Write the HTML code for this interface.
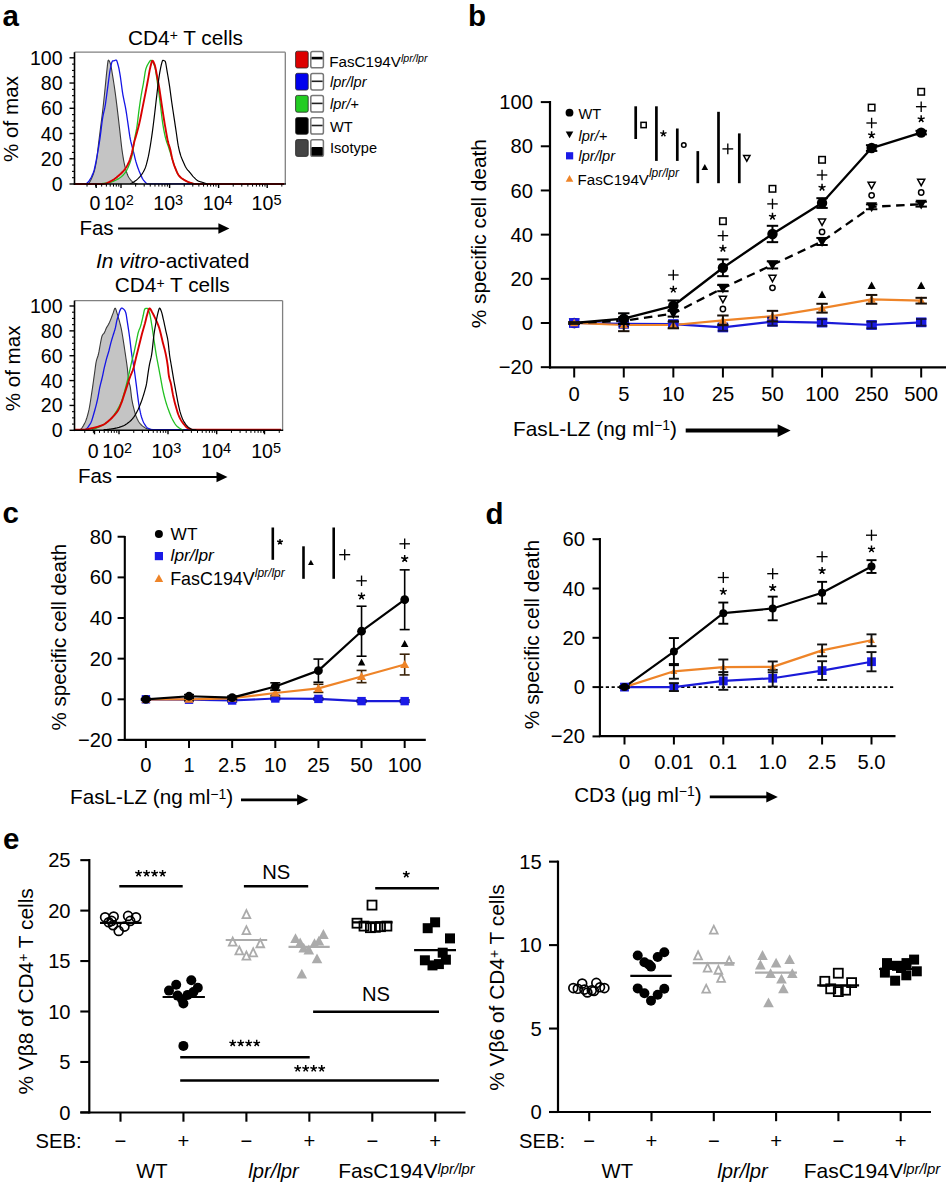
<!DOCTYPE html>
<html><head><meta charset="utf-8"><style>
html,body{margin:0;padding:0;background:#fff;}
svg{display:block;font-family:"Liberation Sans", sans-serif;}
</style></head><body>
<svg width="946" height="1183" viewBox="0 0 946 1183">
<rect width="946" height="1183" fill="#fff"/>
<text x="2.50" y="25.50" font-size="29.5" text-anchor="start" font-weight="bold">a</text>
<text x="468.00" y="25.50" font-size="29.5" text-anchor="start" font-weight="bold">b</text>
<text x="2.50" y="523.20" font-size="29.5" text-anchor="start" font-weight="bold">c</text>
<text x="485.50" y="523.70" font-size="29.5" text-anchor="start" font-weight="bold">d</text>
<text x="3.00" y="848.50" font-size="29.5" text-anchor="start" font-weight="bold">e</text>
<path d="M88.06,183.94 L88.56,183.47 L89.06,182.86 L89.56,182.15 L90.06,181.36 L90.56,180.47 L91.06,179.50 L91.56,178.45 L92.06,177.31 L92.56,176.10 L93.06,174.80 L93.56,173.40 L94.06,171.81 L94.56,170.01 L95.06,167.99 L95.56,165.73 L96.06,163.22 L96.56,160.25 L97.06,156.43 L97.56,152.12 L98.06,147.72 L98.56,143.59 L99.06,139.59 L99.56,135.59 L100.06,131.59 L100.56,127.59 L101.06,123.63 L101.56,119.73 L102.06,115.80 L102.56,111.73 L103.06,107.45 L103.56,102.95 L104.06,98.27 L104.56,93.49 L105.06,88.67 L105.56,83.60 L106.06,78.33 L106.56,73.34 L107.06,68.90 L107.56,64.16 L108.06,60.69 L108.56,60.13 L109.06,60.67 L109.56,61.63 L110.06,62.82 L110.56,64.24 L111.06,66.42 L111.56,69.17 L112.06,72.23 L112.56,75.35 L113.06,78.35 L113.56,81.47 L114.06,84.74 L114.56,88.14 L115.06,91.66 L115.56,95.29 L116.06,99.10 L116.56,103.08 L117.06,107.18 L117.56,111.33 L118.06,115.54 L118.56,119.86 L119.06,124.23 L119.56,128.62 L120.06,132.99 L120.56,137.57 L121.06,142.18 L121.56,146.54 L122.06,150.37 L122.56,153.71 L123.06,156.86 L123.56,159.80 L124.06,162.48 L124.56,164.87 L125.06,166.92 L125.56,168.75 L126.06,170.47 L126.56,172.06 L127.06,173.52 L127.56,174.83 L128.06,175.97 L128.56,176.94 L129.06,177.75 L129.56,178.49 L130.06,179.17 L130.56,179.80 L131.06,180.37 L131.56,180.88 L132.06,181.34 L132.56,181.74 L133.06,182.08 L133.56,182.37 L134.06,182.66 L134.56,182.93 L135.06,183.18 L135.56,183.41 L136.06,183.60 L136.56,183.76 L137.06,183.87 L137.56,183.93 L137.56,184.00 L88.06,184.00 Z" fill="#c4c4c4" stroke="none" stroke-width="0"/>
<path d="M88.06,183.94 L88.56,183.47 L89.06,182.86 L89.56,182.15 L90.06,181.36 L90.56,180.47 L91.06,179.50 L91.56,178.45 L92.06,177.31 L92.56,176.10 L93.06,174.80 L93.56,173.40 L94.06,171.81 L94.56,170.01 L95.06,167.99 L95.56,165.73 L96.06,163.22 L96.56,160.25 L97.06,156.43 L97.56,152.12 L98.06,147.72 L98.56,143.59 L99.06,139.59 L99.56,135.59 L100.06,131.59 L100.56,127.59 L101.06,123.63 L101.56,119.73 L102.06,115.80 L102.56,111.73 L103.06,107.45 L103.56,102.95 L104.06,98.27 L104.56,93.49 L105.06,88.67 L105.56,83.60 L106.06,78.33 L106.56,73.34 L107.06,68.90 L107.56,64.16 L108.06,60.69 L108.56,60.13 L109.06,60.67 L109.56,61.63 L110.06,62.82 L110.56,64.24 L111.06,66.42 L111.56,69.17 L112.06,72.23 L112.56,75.35 L113.06,78.35 L113.56,81.47 L114.06,84.74 L114.56,88.14 L115.06,91.66 L115.56,95.29 L116.06,99.10 L116.56,103.08 L117.06,107.18 L117.56,111.33 L118.06,115.54 L118.56,119.86 L119.06,124.23 L119.56,128.62 L120.06,132.99 L120.56,137.57 L121.06,142.18 L121.56,146.54 L122.06,150.37 L122.56,153.71 L123.06,156.86 L123.56,159.80 L124.06,162.48 L124.56,164.87 L125.06,166.92 L125.56,168.75 L126.06,170.47 L126.56,172.06 L127.06,173.52 L127.56,174.83 L128.06,175.97 L128.56,176.94 L129.06,177.75 L129.56,178.49 L130.06,179.17 L130.56,179.80 L131.06,180.37 L131.56,180.88 L132.06,181.34 L132.56,181.74 L133.06,182.08 L133.56,182.37 L134.06,182.66 L134.56,182.93 L135.06,183.18 L135.56,183.41 L136.06,183.60 L136.56,183.76 L137.06,183.87 L137.56,183.93" fill="none" stroke="#3a3a3a" stroke-width="1.1" stroke-linejoin="round"/>
<path d="M84.36,183.94 L84.86,183.87 L85.36,183.73 L85.86,183.54 L86.36,183.30 L86.86,183.04 L87.36,182.70 L87.86,182.26 L88.36,181.74 L88.86,181.13 L89.36,180.45 L89.86,179.69 L90.36,178.86 L90.86,177.95 L91.36,176.99 L91.86,175.96 L92.36,174.88 L92.86,173.74 L93.36,172.53 L93.86,171.02 L94.36,169.16 L94.86,167.01 L95.36,164.64 L95.86,162.13 L96.36,159.55 L96.86,156.96 L97.36,154.34 L97.86,151.56 L98.36,148.61 L98.86,145.54 L99.36,142.35 L99.86,139.06 L100.36,135.51 L100.86,131.58 L101.36,127.49 L101.86,123.49 L102.36,119.78 L102.86,116.59 L103.36,114.04 L103.86,111.86 L104.36,109.75 L104.86,107.41 L105.36,104.57 L105.86,101.21 L106.36,97.51 L106.86,93.66 L107.36,89.82 L107.86,86.15 L108.36,82.36 L108.86,78.46 L109.36,74.73 L109.86,71.41 L110.36,68.75 L110.86,66.29 L111.36,64.00 L111.86,62.19 L112.36,61.19 L112.86,60.96 L113.36,60.84 L113.86,60.75 L114.36,60.62 L114.86,60.44 L115.36,60.24 L115.86,60.09 L116.36,60.13 L116.86,60.93 L117.36,62.39 L117.86,64.23 L118.36,66.14 L118.86,68.22 L119.36,70.77 L119.86,73.57 L120.36,76.70 L120.86,80.24 L121.36,84.01 L121.86,87.78 L122.36,91.36 L122.86,94.52 L123.36,97.24 L123.86,99.70 L124.36,102.02 L124.86,104.34 L125.36,106.81 L125.86,109.55 L126.36,112.65 L126.86,116.01 L127.36,119.48 L127.86,122.93 L128.36,126.35 L128.86,129.93 L129.36,133.46 L129.86,136.69 L130.36,139.40 L130.86,141.69 L131.36,143.74 L131.86,145.63 L132.36,147.46 L132.86,149.32 L133.36,151.29 L133.86,153.36 L134.36,155.47 L134.86,157.56 L135.36,159.57 L135.86,161.45 L136.36,163.14 L136.86,164.73 L137.36,166.25 L137.86,167.69 L138.36,169.07 L138.86,170.39 L139.36,171.65 L139.86,172.84 L140.36,174.01 L140.86,175.18 L141.36,176.31 L141.86,177.38 L142.36,178.37 L142.86,179.25 L143.36,179.99 L143.86,180.60 L144.36,181.20 L144.86,181.78 L145.36,182.33 L145.86,182.82 L146.36,183.25 L146.86,183.59 L147.36,183.82 L147.86,183.93 L148.36,183.94 L148.86,183.94 L149.36,183.94 L149.86,183.94 L150.36,183.94 L150.86,183.94 L151.36,183.94 L151.86,183.94 L152.36,183.94 L152.86,183.94 L153.36,183.94 L153.86,183.94 L154.36,183.94 L154.86,183.94 L155.36,183.94 L155.86,183.94 L156.36,183.94 L156.86,183.94 L157.36,183.94 L157.86,183.94 L158.36,183.94 L158.86,183.94 L159.36,183.94 L159.86,183.94 L160.36,183.94 L160.86,183.94 L161.36,183.94 L161.86,183.94 L162.36,183.94 L162.86,183.94 L163.36,183.94 L163.86,183.94 L164.36,183.94 L164.86,183.94 L165.36,183.94 L165.86,183.94 L166.36,183.94 L166.86,183.94 L167.36,183.94 L167.86,183.94 L168.36,183.94 L168.86,183.94 L169.36,183.94 L169.86,183.94 L170.36,183.94 L170.86,183.94 L171.36,183.94 L171.86,183.94 L172.36,183.94 L172.86,183.94 L173.36,183.94 L173.86,183.94 L174.36,183.94 L174.86,183.94 L175.36,183.94 L175.86,183.94 L176.36,183.94 L176.86,183.94 L177.36,183.94 L177.86,183.94 L178.36,183.94 L178.86,183.94 L179.36,183.94 L179.86,183.94 L180.36,183.94 L180.86,183.94 L181.36,183.94 L181.86,183.94 L182.36,183.94 L182.86,183.94 L183.36,183.94 L183.86,183.94 L184.36,183.94 L184.86,183.94 L185.36,183.94 L185.86,183.94 L186.36,183.94 L186.86,183.94 L187.36,183.94 L187.86,183.94 L188.36,183.94 L188.86,183.94 L189.36,183.94 L189.86,183.94 L190.36,183.94 L190.86,183.94 L191.36,183.94 L191.86,183.94 L192.36,183.94 L192.86,183.94 L193.36,183.94 L193.86,183.94 L194.36,183.94 L194.86,183.94 L195.36,183.94 L195.86,183.94 L196.36,183.94 L196.86,183.94 L197.36,183.94 L197.86,183.94 L198.36,183.94 L198.86,183.94 L199.36,183.94 L199.86,183.94 L200.36,183.94 L200.86,183.94 L201.36,183.94 L201.86,183.94 L202.36,183.94 L202.86,183.94 L203.36,183.94 L203.86,183.94 L204.36,183.94 L204.86,183.94 L205.36,183.94 L205.86,183.94 L206.36,183.94 L206.86,183.94 L207.36,183.94 L207.86,183.94 L208.36,183.94 L208.86,183.94 L209.36,183.94 L209.86,183.94 L210.36,183.94 L210.86,183.94 L211.36,183.94 L211.86,183.94 L212.36,183.94 L212.86,183.94 L213.36,183.94 L213.86,183.94 L214.36,183.94 L214.86,183.94 L215.36,183.94 L215.86,183.94 L216.36,183.94 L216.86,183.94 L217.36,183.94 L217.86,183.94 L218.36,183.94 L218.86,183.94 L219.36,183.94 L219.86,183.94 L220.36,183.94 L220.86,183.94 L221.36,183.94 L221.86,183.94" fill="none" stroke="#1414e6" stroke-width="1.3" stroke-linejoin="round"/>
<path d="M96.20,183.94 L96.70,183.93 L97.20,183.92 L97.70,183.91 L98.20,183.89 L98.70,183.87 L99.20,183.84 L99.70,183.81 L100.20,183.77 L100.70,183.73 L101.20,183.68 L101.70,183.63 L102.20,183.58 L102.70,183.52 L103.20,183.46 L103.70,183.39 L104.20,183.33 L104.70,183.25 L105.20,183.18 L105.70,183.11 L106.20,183.03 L106.70,182.95 L107.20,182.86 L107.70,182.78 L108.20,182.69 L108.70,182.60 L109.20,182.51 L109.70,182.42 L110.20,182.32 L110.70,182.19 L111.20,182.06 L111.70,181.90 L112.20,181.74 L112.70,181.55 L113.20,181.36 L113.70,181.15 L114.20,180.94 L114.70,180.71 L115.20,180.47 L115.70,180.22 L116.20,179.97 L116.70,179.70 L117.20,179.43 L117.70,179.15 L118.20,178.87 L118.70,178.58 L119.20,178.27 L119.70,177.94 L120.20,177.59 L120.70,177.21 L121.20,176.81 L121.70,176.39 L122.20,175.94 L122.70,175.47 L123.20,174.97 L123.70,174.43 L124.20,173.87 L124.70,173.28 L125.20,172.65 L125.70,171.95 L126.20,171.15 L126.70,170.26 L127.20,169.29 L127.70,168.25 L128.20,167.14 L128.70,165.96 L129.20,164.72 L129.70,163.43 L130.20,162.02 L130.70,160.47 L131.20,158.76 L131.70,156.87 L132.20,154.77 L132.70,152.36 L133.20,149.19 L133.70,145.58 L134.20,141.93 L134.70,138.67 L135.20,135.94 L135.70,133.44 L136.20,130.94 L136.70,128.18 L137.20,124.88 L137.70,120.93 L138.20,116.67 L138.70,112.45 L139.20,108.61 L139.70,105.05 L140.20,101.62 L140.70,98.33 L141.20,95.23 L141.70,92.34 L142.20,89.68 L142.70,87.12 L143.20,84.52 L143.70,81.73 L144.20,78.47 L144.70,75.05 L145.20,71.91 L145.70,69.52 L146.20,67.93 L146.70,66.61 L147.20,65.51 L147.70,64.57 L148.20,63.72 L148.70,62.86 L149.20,62.02 L149.70,61.29 L150.20,60.72 L150.70,60.41 L151.20,60.39 L151.70,60.67 L152.20,61.20 L152.70,61.94 L153.20,62.86 L153.70,63.94 L154.20,65.12 L154.70,66.39 L155.20,68.24 L155.70,70.88 L156.20,74.07 L156.70,77.57 L157.20,81.15 L157.70,84.59 L158.20,88.07 L158.70,91.73 L159.20,95.52 L159.70,99.39 L160.20,103.30 L160.70,107.20 L161.20,111.36 L161.70,115.65 L162.20,119.75 L162.70,123.37 L163.20,126.44 L163.70,129.28 L164.20,131.92 L164.70,134.35 L165.20,136.57 L165.70,138.58 L166.20,140.36 L166.70,141.93 L167.20,143.38 L167.70,144.76 L168.20,146.15 L168.70,147.62 L169.20,149.19 L169.70,150.78 L170.20,152.40 L170.70,154.03 L171.20,155.65 L171.70,157.26 L172.20,158.84 L172.70,160.40 L173.20,161.99 L173.70,163.59 L174.20,165.14 L174.70,166.61 L175.20,167.96 L175.70,169.17 L176.20,170.36 L176.70,171.52 L177.20,172.61 L177.70,173.61 L178.20,174.52 L178.70,175.30 L179.20,175.94 L179.70,176.49 L180.20,177.00 L180.70,177.46 L181.20,177.88 L181.70,178.27 L182.20,178.63 L182.70,178.97 L183.20,179.29 L183.70,179.61 L184.20,179.92 L184.70,180.22 L185.20,180.51 L185.70,180.79 L186.20,181.05 L186.70,181.31 L187.20,181.55 L187.70,181.78 L188.20,181.99 L188.70,182.19 L189.20,182.37 L189.70,182.54 L190.20,182.71 L190.70,182.86 L191.20,183.01 L191.70,183.16 L192.20,183.30 L192.70,183.43 L193.20,183.55 L193.70,183.66 L194.20,183.75 L194.70,183.84 L195.20,183.91" fill="none" stroke="#22c022" stroke-width="1.3" stroke-linejoin="round"/>
<path d="M74.00,183.94 L74.50,183.94 L75.00,183.94 L75.50,183.94 L76.00,183.94 L76.50,183.94 L77.00,183.94 L77.50,183.94 L78.00,183.94 L78.50,183.94 L79.00,183.94 L79.50,183.94 L80.00,183.94 L80.50,183.94 L81.00,183.94 L81.50,183.94 L82.00,183.94 L82.50,183.94 L83.00,183.94 L83.50,183.94 L84.00,183.94 L84.50,183.94 L85.00,183.94 L85.50,183.94 L86.00,183.94 L86.50,183.94 L87.00,183.94 L87.50,183.94 L88.00,183.94 L88.50,183.94 L89.00,183.94 L89.50,183.94 L90.00,183.94 L90.50,183.94 L91.00,183.94 L91.50,183.94 L92.00,183.94 L92.50,183.94 L93.00,183.94 L93.50,183.94 L94.00,183.94 L94.50,183.94 L95.00,183.94 L95.50,183.94 L96.00,183.94 L96.50,183.94 L97.00,183.94 L97.50,183.94 L98.00,183.94 L98.50,183.94 L99.00,183.94 L99.50,183.94 L100.00,183.94 L100.50,183.94 L101.00,183.94 L101.50,183.94 L102.00,183.94 L102.50,183.94 L103.00,183.94 L103.50,183.94 L104.00,183.92 L104.50,183.87 L105.00,183.79 L105.50,183.67 L106.00,183.53 L106.50,183.36 L107.00,183.16 L107.50,182.95 L108.00,182.71 L108.50,182.46 L109.00,182.20 L109.50,181.92 L110.00,181.64 L110.50,181.36 L111.00,181.07 L111.50,180.78 L112.00,180.50 L112.50,180.22 L113.00,179.94 L113.50,179.63 L114.00,179.30 L114.50,178.95 L115.00,178.58 L115.50,178.20 L116.00,177.80 L116.50,177.40 L117.00,176.98 L117.50,176.56 L118.00,176.14 L118.50,175.71 L119.00,175.28 L119.50,174.84 L120.00,174.40 L120.50,173.95 L121.00,173.48 L121.50,173.00 L122.00,172.50 L122.50,171.98 L123.00,171.44 L123.50,170.87 L124.00,170.27 L124.50,169.64 L125.00,168.98 L125.50,168.28 L126.00,167.54 L126.50,166.75 L127.00,165.91 L127.50,165.01 L128.00,164.05 L128.50,163.03 L129.00,161.93 L129.50,160.69 L130.00,159.30 L130.50,157.78 L131.00,156.14 L131.50,154.39 L132.00,152.47 L132.50,150.15 L133.00,147.64 L133.50,145.17 L134.00,142.99 L134.50,141.09 L135.00,139.35 L135.50,137.68 L136.00,136.02 L136.50,134.31 L137.00,132.49 L137.50,130.61 L138.00,128.70 L138.50,126.73 L139.00,124.71 L139.50,122.60 L140.00,120.40 L140.50,118.04 L141.00,115.56 L141.50,113.01 L142.00,110.42 L142.50,107.84 L143.00,105.33 L143.50,102.85 L144.00,100.37 L144.50,97.90 L145.00,95.40 L145.50,92.86 L146.00,90.28 L146.50,87.64 L147.00,84.96 L147.50,82.27 L148.00,79.58 L148.50,76.80 L149.00,73.92 L149.50,71.15 L150.00,68.68 L150.50,66.58 L151.00,64.42 L151.50,62.47 L152.00,61.10 L152.50,60.66 L153.00,61.04 L153.50,61.89 L154.00,63.06 L154.50,64.38 L155.00,65.90 L155.50,68.02 L156.00,70.55 L156.50,73.21 L157.00,75.77 L157.50,78.29 L158.00,80.88 L158.50,83.58 L159.00,86.43 L159.50,89.49 L160.00,92.78 L160.50,96.21 L161.00,99.66 L161.50,103.02 L162.00,106.40 L162.50,109.79 L163.00,113.13 L163.50,116.36 L164.00,119.50 L164.50,122.56 L165.00,125.55 L165.50,128.46 L166.00,131.30 L166.50,134.19 L167.00,137.00 L167.50,139.60 L168.00,141.85 L168.50,143.68 L169.00,145.26 L169.50,146.77 L170.00,148.42 L170.50,150.43 L171.00,152.83 L171.50,155.37 L172.00,157.79 L172.50,159.82 L173.00,161.58 L173.50,163.21 L174.00,164.73 L174.50,166.15 L175.00,167.46 L175.50,168.69 L176.00,169.89 L176.50,171.06 L177.00,172.18 L177.50,173.22 L178.00,174.17 L178.50,175.01 L179.00,175.70 L179.50,176.28 L180.00,176.80 L180.50,177.28 L181.00,177.71 L181.50,178.11 L182.00,178.49 L182.50,178.83 L183.00,179.17 L183.50,179.49 L184.00,179.80 L184.50,180.10 L185.00,180.39 L185.50,180.68 L186.00,180.95 L186.50,181.21 L187.00,181.46 L187.50,181.69 L188.00,181.91 L188.50,182.11 L189.00,182.30 L189.50,182.48 L190.00,182.65 L190.50,182.82 L191.00,182.99 L191.50,183.16 L192.00,183.32 L192.50,183.47 L193.00,183.61 L193.50,183.72 L194.00,183.82 L194.50,183.89 L195.00,183.93 L195.50,183.94 L196.00,183.94 L196.50,183.94 L197.00,183.94 L197.50,183.94 L198.00,183.94 L198.50,183.94 L199.00,183.94 L199.50,183.94 L200.00,183.94 L200.50,183.94 L201.00,183.94 L201.50,183.94 L202.00,183.94 L202.50,183.94 L203.00,183.94 L203.50,183.94 L204.00,183.94 L204.50,183.94 L205.00,183.94 L205.50,183.94 L206.00,183.94 L206.50,183.94 L207.00,183.94 L207.50,183.94 L208.00,183.94 L208.50,183.94 L209.00,183.94 L209.50,183.94 L210.00,183.94 L210.50,183.94 L211.00,183.94 L211.50,183.94 L212.00,183.94 L212.50,183.94 L213.00,183.94 L213.50,183.94 L214.00,183.94 L214.50,183.94 L215.00,183.94 L215.50,183.94 L216.00,183.94 L216.50,183.94 L217.00,183.94 L217.50,183.94 L218.00,183.94 L218.50,183.94 L219.00,183.94 L219.50,183.94 L220.00,183.94 L220.50,183.94 L221.00,183.94 L221.50,183.94 L222.00,183.94 L222.50,183.94 L223.00,183.94 L223.50,183.94 L224.00,183.94 L224.50,183.94 L225.00,183.94 L225.50,183.94 L226.00,183.94 L226.50,183.94 L227.00,183.94 L227.50,183.94 L228.00,183.94 L228.50,183.94 L229.00,183.94 L229.50,183.94 L230.00,183.94 L230.50,183.94 L231.00,183.94 L231.50,183.94 L232.00,183.94 L232.50,183.94 L233.00,183.94 L233.50,183.94 L234.00,183.94 L234.50,183.94 L235.00,183.94 L235.50,183.94 L236.00,183.94 L236.50,183.94 L237.00,183.94 L237.50,183.94 L238.00,183.94 L238.50,183.94 L239.00,183.94 L239.50,183.94 L240.00,183.94 L240.50,183.94 L241.00,183.94 L241.50,183.94 L242.00,183.94 L242.50,183.94 L243.00,183.94 L243.50,183.94 L244.00,183.94 L244.50,183.94 L245.00,183.94 L245.50,183.94 L246.00,183.94 L246.50,183.94 L247.00,183.94 L247.50,183.94 L248.00,183.94 L248.50,183.94 L249.00,183.94 L249.50,183.94 L250.00,183.94 L250.50,183.94 L251.00,183.94 L251.50,183.94 L252.00,183.94 L252.50,183.94 L253.00,183.94 L253.50,183.94 L254.00,183.94 L254.50,183.94 L255.00,183.94 L255.50,183.94 L256.00,183.94 L256.50,183.94 L257.00,183.94 L257.50,183.94 L258.00,183.94 L258.50,183.94 L259.00,183.94 L259.50,183.94 L260.00,183.94 L260.50,183.94 L261.00,183.94 L261.50,183.94 L262.00,183.94 L262.50,183.94 L263.00,183.94 L263.50,183.94 L264.00,183.94 L264.50,183.94 L265.00,183.94 L265.50,183.94 L266.00,183.94 L266.50,183.94 L267.00,183.94 L267.50,183.94 L268.00,183.94 L268.50,183.94 L269.00,183.94 L269.50,183.94 L270.00,183.94 L270.50,183.94 L271.00,183.94 L271.50,183.94 L272.00,183.94 L272.50,183.94 L273.00,183.94 L273.50,183.94 L274.00,183.94 L274.50,183.94 L275.00,183.94 L275.50,183.94 L276.00,183.94 L276.50,183.94 L277.00,183.94 L277.50,183.94 L278.00,183.94 L278.50,183.94 L279.00,183.94 L279.50,183.94 L280.00,183.94 L280.50,183.94 L281.00,183.94 L281.50,183.94 L282.00,183.94 L282.50,183.94 L283.00,183.94 L283.50,183.94 L284.00,183.94" fill="none" stroke="#d80000" stroke-width="1.9" stroke-linejoin="round"/>
<path d="M130.24,183.64 L130.74,183.46 L131.24,183.26 L131.74,183.03 L132.24,182.78 L132.74,182.50 L133.24,182.21 L133.74,181.91 L134.24,181.59 L134.74,181.25 L135.24,180.90 L135.74,180.54 L136.24,180.18 L136.74,179.79 L137.24,179.37 L137.74,178.92 L138.24,178.44 L138.74,177.93 L139.24,177.39 L139.74,176.83 L140.24,176.24 L140.74,175.62 L141.24,174.97 L141.74,174.30 L142.24,173.58 L142.74,172.81 L143.24,171.99 L143.74,171.09 L144.24,170.12 L144.74,169.07 L145.24,167.91 L145.74,166.53 L146.24,164.92 L146.74,163.13 L147.24,161.19 L147.74,159.13 L148.24,156.97 L148.74,154.53 L149.24,151.86 L149.74,149.01 L150.24,146.07 L150.74,143.01 L151.24,139.77 L151.74,136.37 L152.24,132.84 L152.74,129.17 L153.24,125.29 L153.74,121.25 L154.24,117.13 L154.74,112.96 L155.24,108.67 L155.74,104.28 L156.24,99.87 L156.74,95.56 L157.24,91.35 L157.74,87.08 L158.24,82.93 L158.74,79.09 L159.24,75.74 L159.74,72.67 L160.24,69.82 L160.74,67.27 L161.24,65.10 L161.74,63.11 L162.24,61.29 L162.74,60.37 L163.24,60.39 L163.74,60.50 L164.24,60.69 L164.74,60.93 L165.24,61.41 L165.74,63.20 L166.24,65.99 L166.74,69.19 L167.24,72.21 L167.74,74.99 L168.24,77.89 L168.74,80.92 L169.24,84.09 L169.74,87.44 L170.24,91.07 L170.74,94.86 L171.24,98.63 L171.74,102.23 L172.24,105.64 L172.74,108.97 L173.24,112.25 L173.74,115.54 L174.24,118.87 L174.74,122.21 L175.24,125.54 L175.74,128.87 L176.24,132.22 L176.74,135.75 L177.24,139.34 L177.74,142.74 L178.24,145.69 L178.74,148.13 L179.24,150.31 L179.74,152.28 L180.24,154.05 L180.74,155.63 L181.24,157.06 L181.74,158.37 L182.24,159.59 L182.74,160.74 L183.24,161.86 L183.74,162.97 L184.24,164.08 L184.74,165.16 L185.24,166.19 L185.74,167.15 L186.24,168.02 L186.74,168.78 L187.24,169.46 L187.74,170.08 L188.24,170.66 L188.74,171.22 L189.24,171.77 L189.74,172.32 L190.24,172.91 L190.74,173.53 L191.24,174.16 L191.74,174.79 L192.24,175.42 L192.74,176.03 L193.24,176.60 L193.74,177.14 L194.24,177.63 L194.74,178.13 L195.24,178.62 L195.74,179.09 L196.24,179.53 L196.74,179.95 L197.24,180.33 L197.74,180.66 L198.24,180.94 L198.74,181.17 L199.24,181.37 L199.74,181.54 L200.24,181.70 L200.74,181.85 L201.24,182.00 L201.74,182.14 L202.24,182.29 L202.74,182.45 L203.24,182.62 L203.74,182.78 L204.24,182.95 L204.74,183.12 L205.24,183.28 L205.74,183.45 L206.24,183.62 L206.74,183.78" fill="none" stroke="#000" stroke-width="1.2" stroke-linejoin="round"/>
<line x1="74.50" y1="52.20" x2="285.30" y2="52.20" stroke="#808080" stroke-width="1.3"/>
<line x1="285.30" y1="52.20" x2="285.30" y2="184.00" stroke="#808080" stroke-width="1.3"/>
<line x1="74.50" y1="52.20" x2="74.50" y2="184.80" stroke="#000" stroke-width="1.6"/>
<line x1="73.70" y1="184.00" x2="285.90" y2="184.00" stroke="#000" stroke-width="1.6"/>
<line x1="69.50" y1="184.00" x2="74.50" y2="184.00" stroke="#000" stroke-width="1.4"/>
<line x1="72.00" y1="177.69" x2="74.50" y2="177.69" stroke="#000" stroke-width="1.1"/>
<line x1="72.00" y1="171.38" x2="74.50" y2="171.38" stroke="#000" stroke-width="1.1"/>
<line x1="72.00" y1="165.07" x2="74.50" y2="165.07" stroke="#000" stroke-width="1.1"/>
<line x1="69.50" y1="158.76" x2="74.50" y2="158.76" stroke="#000" stroke-width="1.4"/>
<line x1="72.00" y1="152.45" x2="74.50" y2="152.45" stroke="#000" stroke-width="1.1"/>
<line x1="72.00" y1="146.14" x2="74.50" y2="146.14" stroke="#000" stroke-width="1.1"/>
<line x1="72.00" y1="139.83" x2="74.50" y2="139.83" stroke="#000" stroke-width="1.1"/>
<line x1="69.50" y1="133.52" x2="74.50" y2="133.52" stroke="#000" stroke-width="1.4"/>
<line x1="72.00" y1="127.21" x2="74.50" y2="127.21" stroke="#000" stroke-width="1.1"/>
<line x1="72.00" y1="120.90" x2="74.50" y2="120.90" stroke="#000" stroke-width="1.1"/>
<line x1="72.00" y1="114.59" x2="74.50" y2="114.59" stroke="#000" stroke-width="1.1"/>
<line x1="69.50" y1="108.28" x2="74.50" y2="108.28" stroke="#000" stroke-width="1.4"/>
<line x1="72.00" y1="101.97" x2="74.50" y2="101.97" stroke="#000" stroke-width="1.1"/>
<line x1="72.00" y1="95.66" x2="74.50" y2="95.66" stroke="#000" stroke-width="1.1"/>
<line x1="72.00" y1="89.35" x2="74.50" y2="89.35" stroke="#000" stroke-width="1.1"/>
<line x1="69.50" y1="83.04" x2="74.50" y2="83.04" stroke="#000" stroke-width="1.4"/>
<line x1="72.00" y1="76.73" x2="74.50" y2="76.73" stroke="#000" stroke-width="1.1"/>
<line x1="72.00" y1="70.42" x2="74.50" y2="70.42" stroke="#000" stroke-width="1.1"/>
<line x1="72.00" y1="64.11" x2="74.50" y2="64.11" stroke="#000" stroke-width="1.1"/>
<line x1="69.50" y1="57.80" x2="74.50" y2="57.80" stroke="#000" stroke-width="1.4"/>
<text x="62.60" y="191.00" font-size="19.6" text-anchor="end">0</text>
<text x="62.60" y="165.76" font-size="19.6" text-anchor="end">20</text>
<text x="62.60" y="140.52" font-size="19.6" text-anchor="end">40</text>
<text x="62.60" y="115.28" font-size="19.6" text-anchor="end">60</text>
<text x="62.60" y="90.04" font-size="19.6" text-anchor="end">80</text>
<text x="62.60" y="64.80" font-size="19.6" text-anchor="end">100</text>
<line x1="96.20" y1="184.00" x2="96.20" y2="188.00" stroke="#000" stroke-width="1.4"/>
<line x1="121.00" y1="184.00" x2="121.00" y2="188.00" stroke="#000" stroke-width="1.4"/>
<line x1="169.60" y1="184.00" x2="169.60" y2="188.00" stroke="#000" stroke-width="1.4"/>
<line x1="218.60" y1="184.00" x2="218.60" y2="188.00" stroke="#000" stroke-width="1.4"/>
<line x1="267.20" y1="184.00" x2="267.20" y2="188.00" stroke="#000" stroke-width="1.4"/>
<line x1="87.03" y1="184.00" x2="87.03" y2="186.60" stroke="#000" stroke-width="1.0"/>
<line x1="95.59" y1="184.00" x2="95.59" y2="186.60" stroke="#000" stroke-width="1.0"/>
<line x1="101.66" y1="184.00" x2="101.66" y2="186.60" stroke="#000" stroke-width="1.0"/>
<line x1="106.37" y1="184.00" x2="106.37" y2="186.60" stroke="#000" stroke-width="1.0"/>
<line x1="110.22" y1="184.00" x2="110.22" y2="186.60" stroke="#000" stroke-width="1.0"/>
<line x1="113.47" y1="184.00" x2="113.47" y2="186.60" stroke="#000" stroke-width="1.0"/>
<line x1="116.29" y1="184.00" x2="116.29" y2="186.60" stroke="#000" stroke-width="1.0"/>
<line x1="118.78" y1="184.00" x2="118.78" y2="186.60" stroke="#000" stroke-width="1.0"/>
<line x1="135.63" y1="184.00" x2="135.63" y2="186.60" stroke="#000" stroke-width="1.0"/>
<line x1="144.19" y1="184.00" x2="144.19" y2="186.60" stroke="#000" stroke-width="1.0"/>
<line x1="150.26" y1="184.00" x2="150.26" y2="186.60" stroke="#000" stroke-width="1.0"/>
<line x1="154.97" y1="184.00" x2="154.97" y2="186.60" stroke="#000" stroke-width="1.0"/>
<line x1="158.82" y1="184.00" x2="158.82" y2="186.60" stroke="#000" stroke-width="1.0"/>
<line x1="162.07" y1="184.00" x2="162.07" y2="186.60" stroke="#000" stroke-width="1.0"/>
<line x1="164.89" y1="184.00" x2="164.89" y2="186.60" stroke="#000" stroke-width="1.0"/>
<line x1="167.38" y1="184.00" x2="167.38" y2="186.60" stroke="#000" stroke-width="1.0"/>
<line x1="184.23" y1="184.00" x2="184.23" y2="186.60" stroke="#000" stroke-width="1.0"/>
<line x1="192.79" y1="184.00" x2="192.79" y2="186.60" stroke="#000" stroke-width="1.0"/>
<line x1="198.86" y1="184.00" x2="198.86" y2="186.60" stroke="#000" stroke-width="1.0"/>
<line x1="203.57" y1="184.00" x2="203.57" y2="186.60" stroke="#000" stroke-width="1.0"/>
<line x1="207.42" y1="184.00" x2="207.42" y2="186.60" stroke="#000" stroke-width="1.0"/>
<line x1="210.67" y1="184.00" x2="210.67" y2="186.60" stroke="#000" stroke-width="1.0"/>
<line x1="213.49" y1="184.00" x2="213.49" y2="186.60" stroke="#000" stroke-width="1.0"/>
<line x1="215.98" y1="184.00" x2="215.98" y2="186.60" stroke="#000" stroke-width="1.0"/>
<line x1="233.23" y1="184.00" x2="233.23" y2="186.60" stroke="#000" stroke-width="1.0"/>
<line x1="241.79" y1="184.00" x2="241.79" y2="186.60" stroke="#000" stroke-width="1.0"/>
<line x1="247.86" y1="184.00" x2="247.86" y2="186.60" stroke="#000" stroke-width="1.0"/>
<line x1="252.57" y1="184.00" x2="252.57" y2="186.60" stroke="#000" stroke-width="1.0"/>
<line x1="256.42" y1="184.00" x2="256.42" y2="186.60" stroke="#000" stroke-width="1.0"/>
<line x1="259.67" y1="184.00" x2="259.67" y2="186.60" stroke="#000" stroke-width="1.0"/>
<line x1="262.49" y1="184.00" x2="262.49" y2="186.60" stroke="#000" stroke-width="1.0"/>
<line x1="264.98" y1="184.00" x2="264.98" y2="186.60" stroke="#000" stroke-width="1.0"/>
<line x1="281.83" y1="184.00" x2="281.83" y2="186.60" stroke="#000" stroke-width="1.0"/>
<text x="94.90" y="210.20" font-size="19.6" text-anchor="middle">0</text>
<text x="103.90" y="210.20" font-size="19.6">10<tspan font-size="14.5" dy="-5.4">2</tspan></text>
<text x="153.30" y="210.20" font-size="19.6">10<tspan font-size="14.5" dy="-5.4">3</tspan></text>
<text x="202.80" y="210.20" font-size="19.6">10<tspan font-size="14.5" dy="-5.4">4</tspan></text>
<text x="251.60" y="210.20" font-size="19.6">10<tspan font-size="14.5" dy="-5.4">5</tspan></text>
<text x="79.40" y="235.30" font-size="20.5" text-anchor="start">Fas</text>
<line x1="118.10" y1="228.50" x2="219.40" y2="228.50" stroke="#000" stroke-width="2.2"/>
<path d="M218.40,223.25 L229.40,228.50 L218.40,233.75 Z" fill="#000" stroke="none" stroke-width="0"/>
<text x="185.5" y="44.9" font-size="20.8" text-anchor="middle">CD4<tspan font-size="14" dy="-4.7">+</tspan><tspan dy="4.7"> T cells</tspan></text>
<text x="18.30" y="119.00" font-size="20.6" text-anchor="middle" transform="rotate(-90 18.30 119.00)">% of max</text>
<rect x="295.60" y="51.20" width="12.60" height="16.80" fill="#dd0000" stroke="#222" stroke-width="0.8" rx="1.8"/>
<rect x="310.80" y="51.40" width="12.60" height="16.40" fill="#fff" stroke="#777" stroke-width="1.5" rx="1.8"/>
<rect x="311.60" y="56.80" width="11.00" height="2.60" fill="#000"/>
<rect x="295.60" y="73.30" width="12.60" height="16.80" fill="#0000ee" stroke="#222" stroke-width="0.8" rx="1.8"/>
<rect x="310.80" y="73.50" width="12.60" height="16.40" fill="#fff" stroke="#777" stroke-width="1.5" rx="1.8"/>
<rect x="311.60" y="80.50" width="11.00" height="1.60" fill="#222"/>
<rect x="295.60" y="95.40" width="12.60" height="16.80" fill="#22cc22" stroke="#222" stroke-width="0.8" rx="1.8"/>
<rect x="310.80" y="95.60" width="12.60" height="16.40" fill="#fff" stroke="#777" stroke-width="1.5" rx="1.8"/>
<rect x="311.60" y="102.60" width="11.00" height="1.60" fill="#222"/>
<rect x="295.60" y="117.50" width="12.60" height="16.80" fill="#000" stroke="#222" stroke-width="0.8" rx="1.8"/>
<rect x="310.80" y="117.70" width="12.60" height="16.40" fill="#fff" stroke="#777" stroke-width="1.5" rx="1.8"/>
<rect x="311.60" y="124.70" width="11.00" height="1.60" fill="#222"/>
<rect x="295.60" y="139.60" width="12.60" height="16.80" fill="#444" stroke="#222" stroke-width="0.8" rx="1.8"/>
<rect x="310.80" y="139.80" width="12.60" height="16.40" fill="#fff" stroke="#777" stroke-width="1.5" rx="1.8"/>
<rect x="311.40" y="147.00" width="11.40" height="8.80" fill="#000" rx="1"/>
<text x="329.2" y="66.5" font-size="15.2">FasC194V<tspan font-size="10.6" font-style="italic" dy="-4.3">lpr/lpr</tspan></text>
<text x="330.00" y="86.60" font-size="14.6" text-anchor="start" font-style="italic">lpr/lpr</text>
<text x="330.00" y="108.60" font-size="14.6" text-anchor="start" font-style="italic">lpr/+</text>
<text x="330.00" y="132.30" font-size="14.6" text-anchor="start">WT</text>
<text x="330.00" y="152.60" font-size="14.6" text-anchor="start">Isotype</text>
<path d="M79.92,429.72 L80.42,429.45 L80.92,429.05 L81.42,428.54 L81.92,427.92 L82.42,427.20 L82.92,426.41 L83.42,425.55 L83.92,424.63 L84.42,423.67 L84.92,422.68 L85.42,421.63 L85.92,420.42 L86.42,419.05 L86.92,417.51 L87.42,415.83 L87.92,414.00 L88.42,412.04 L88.92,409.95 L89.42,407.49 L89.92,404.65 L90.42,401.53 L90.92,398.26 L91.42,394.94 L91.92,391.67 L92.42,388.31 L92.92,384.82 L93.42,381.27 L93.92,377.68 L94.42,374.11 L94.92,370.54 L95.42,366.68 L95.92,363.16 L96.42,360.69 L96.92,358.93 L97.42,357.48 L97.92,356.02 L98.42,354.24 L98.92,351.90 L99.42,349.15 L99.92,346.27 L100.42,343.51 L100.92,340.97 L101.42,338.36 L101.92,336.27 L102.42,335.17 L102.92,334.48 L103.42,333.94 L103.92,333.39 L104.42,332.64 L104.92,331.58 L105.42,330.33 L105.92,329.05 L106.42,327.88 L106.92,326.94 L107.42,326.13 L107.92,325.36 L108.42,324.55 L108.92,323.62 L109.42,322.55 L109.92,321.39 L110.42,320.16 L110.92,318.92 L111.42,317.64 L111.92,316.29 L112.42,314.93 L112.92,313.58 L113.42,312.24 L113.92,310.65 L114.42,309.13 L114.92,308.18 L115.42,308.27 L115.92,309.43 L116.42,311.13 L116.92,312.80 L117.42,314.33 L117.92,315.95 L118.42,317.64 L118.92,319.41 L119.42,321.22 L119.92,323.06 L120.42,324.99 L120.92,327.07 L121.42,329.38 L121.92,332.04 L122.42,335.02 L122.92,338.18 L123.42,341.39 L123.92,344.58 L124.42,347.86 L124.92,351.21 L125.42,354.61 L125.92,358.03 L126.42,361.38 L126.92,364.86 L127.42,368.74 L127.92,373.65 L128.42,378.46 L128.92,381.70 L129.42,383.62 L129.92,385.35 L130.42,387.92 L130.92,392.06 L131.42,396.50 L131.92,399.81 L132.42,402.47 L132.92,404.81 L133.42,406.94 L133.92,408.93 L134.42,410.83 L134.92,412.63 L135.42,414.29 L135.92,415.77 L136.42,417.05 L136.92,418.24 L137.42,419.34 L137.92,420.34 L138.42,421.25 L138.92,422.04 L139.42,422.72 L139.92,423.35 L140.42,423.94 L140.92,424.49 L141.42,425.00 L141.92,425.47 L142.42,425.91 L142.92,426.30 L143.42,426.66 L143.92,426.99 L144.42,427.31 L144.92,427.62 L145.42,427.90 L145.92,428.17 L146.42,428.41 L146.92,428.62 L147.42,428.81 L147.92,428.96 L148.42,429.08 L148.92,429.20 L149.42,429.32 L149.92,429.43 L150.42,429.52 L150.92,429.60 L151.42,429.66 L151.92,429.70 L152.42,429.72 L152.42,430.30 L79.92,430.30 Z" fill="#c4c4c4" stroke="none" stroke-width="0"/>
<path d="M79.92,429.72 L80.42,429.45 L80.92,429.05 L81.42,428.54 L81.92,427.92 L82.42,427.20 L82.92,426.41 L83.42,425.55 L83.92,424.63 L84.42,423.67 L84.92,422.68 L85.42,421.63 L85.92,420.42 L86.42,419.05 L86.92,417.51 L87.42,415.83 L87.92,414.00 L88.42,412.04 L88.92,409.95 L89.42,407.49 L89.92,404.65 L90.42,401.53 L90.92,398.26 L91.42,394.94 L91.92,391.67 L92.42,388.31 L92.92,384.82 L93.42,381.27 L93.92,377.68 L94.42,374.11 L94.92,370.54 L95.42,366.68 L95.92,363.16 L96.42,360.69 L96.92,358.93 L97.42,357.48 L97.92,356.02 L98.42,354.24 L98.92,351.90 L99.42,349.15 L99.92,346.27 L100.42,343.51 L100.92,340.97 L101.42,338.36 L101.92,336.27 L102.42,335.17 L102.92,334.48 L103.42,333.94 L103.92,333.39 L104.42,332.64 L104.92,331.58 L105.42,330.33 L105.92,329.05 L106.42,327.88 L106.92,326.94 L107.42,326.13 L107.92,325.36 L108.42,324.55 L108.92,323.62 L109.42,322.55 L109.92,321.39 L110.42,320.16 L110.92,318.92 L111.42,317.64 L111.92,316.29 L112.42,314.93 L112.92,313.58 L113.42,312.24 L113.92,310.65 L114.42,309.13 L114.92,308.18 L115.42,308.27 L115.92,309.43 L116.42,311.13 L116.92,312.80 L117.42,314.33 L117.92,315.95 L118.42,317.64 L118.92,319.41 L119.42,321.22 L119.92,323.06 L120.42,324.99 L120.92,327.07 L121.42,329.38 L121.92,332.04 L122.42,335.02 L122.92,338.18 L123.42,341.39 L123.92,344.58 L124.42,347.86 L124.92,351.21 L125.42,354.61 L125.92,358.03 L126.42,361.38 L126.92,364.86 L127.42,368.74 L127.92,373.65 L128.42,378.46 L128.92,381.70 L129.42,383.62 L129.92,385.35 L130.42,387.92 L130.92,392.06 L131.42,396.50 L131.92,399.81 L132.42,402.47 L132.92,404.81 L133.42,406.94 L133.92,408.93 L134.42,410.83 L134.92,412.63 L135.42,414.29 L135.92,415.77 L136.42,417.05 L136.92,418.24 L137.42,419.34 L137.92,420.34 L138.42,421.25 L138.92,422.04 L139.42,422.72 L139.92,423.35 L140.42,423.94 L140.92,424.49 L141.42,425.00 L141.92,425.47 L142.42,425.91 L142.92,426.30 L143.42,426.66 L143.92,426.99 L144.42,427.31 L144.92,427.62 L145.42,427.90 L145.92,428.17 L146.42,428.41 L146.92,428.62 L147.42,428.81 L147.92,428.96 L148.42,429.08 L148.92,429.20 L149.42,429.32 L149.92,429.43 L150.42,429.52 L150.92,429.60 L151.42,429.66 L151.92,429.70 L152.42,429.72" fill="none" stroke="#3a3a3a" stroke-width="1.1" stroke-linejoin="round"/>
<path d="M84.36,429.72 L84.86,429.66 L85.36,429.48 L85.86,429.20 L86.36,428.83 L86.86,428.38 L87.36,427.85 L87.86,427.25 L88.36,426.61 L88.86,425.91 L89.36,425.19 L89.86,424.44 L90.36,423.67 L90.86,422.73 L91.36,421.55 L91.86,420.18 L92.36,418.65 L92.86,417.01 L93.36,415.28 L93.86,413.51 L94.36,411.73 L94.86,409.99 L95.36,408.19 L95.86,406.31 L96.36,404.33 L96.86,402.26 L97.36,400.08 L97.86,397.77 L98.36,395.14 L98.86,392.31 L99.36,389.51 L99.86,386.98 L100.36,384.81 L100.86,382.85 L101.36,380.96 L101.86,379.00 L102.36,376.85 L102.86,374.52 L103.36,372.10 L103.86,369.72 L104.36,367.47 L104.86,365.35 L105.36,363.29 L105.86,361.31 L106.36,359.41 L106.86,357.62 L107.36,355.97 L107.86,354.37 L108.36,352.74 L108.86,350.98 L109.36,349.03 L109.86,346.96 L110.36,344.88 L110.86,342.91 L111.36,341.12 L111.86,339.43 L112.36,337.80 L112.86,336.18 L113.36,334.53 L113.86,332.96 L114.36,331.40 L114.86,329.76 L115.36,327.91 L115.86,325.59 L116.36,322.85 L116.86,320.43 L117.36,318.73 L117.86,317.33 L118.36,315.88 L118.86,314.06 L119.36,312.11 L119.86,310.62 L120.36,309.60 L120.86,308.72 L121.36,308.17 L121.86,308.08 L122.36,308.23 L122.86,308.51 L123.36,308.90 L123.86,309.37 L124.36,309.88 L124.86,310.59 L125.36,311.62 L125.86,313.00 L126.36,315.48 L126.86,318.85 L127.36,322.19 L127.86,325.37 L128.36,328.62 L128.86,331.98 L129.36,335.48 L129.86,339.24 L130.36,343.37 L130.86,347.59 L131.36,351.62 L131.86,355.19 L132.36,358.29 L132.86,361.15 L133.36,363.99 L133.86,367.05 L134.36,370.43 L134.86,374.01 L135.36,377.74 L135.86,381.55 L136.36,385.42 L136.86,389.48 L137.36,393.54 L137.86,397.34 L138.36,401.06 L138.86,404.48 L139.36,407.39 L139.86,410.06 L140.36,412.49 L140.86,414.65 L141.36,416.47 L141.86,418.05 L142.36,419.50 L142.86,420.82 L143.36,421.99 L143.86,423.02 L144.36,423.90 L144.86,424.70 L145.36,425.48 L145.86,426.19 L146.36,426.84 L146.86,427.39 L147.36,427.84 L147.86,428.17 L148.36,428.39 L148.86,428.59 L149.36,428.79 L149.86,428.96 L150.36,429.13 L150.86,429.27 L151.36,429.40 L151.86,429.51 L152.36,429.59 L152.86,429.66 L153.36,429.70 L153.86,429.72 L154.36,429.72 L154.86,429.72 L155.36,429.72 L155.86,429.72 L156.36,429.72 L156.86,429.72 L157.36,429.72 L157.86,429.72 L158.36,429.72 L158.86,429.72 L159.36,429.72 L159.86,429.72 L160.36,429.72 L160.86,429.72 L161.36,429.72 L161.86,429.72 L162.36,429.72 L162.86,429.72 L163.36,429.72 L163.86,429.72 L164.36,429.72 L164.86,429.72 L165.36,429.72 L165.86,429.72 L166.36,429.72 L166.86,429.72 L167.36,429.72 L167.86,429.72 L168.36,429.72 L168.86,429.72 L169.36,429.72 L169.86,429.72 L170.36,429.72 L170.86,429.72 L171.36,429.72 L171.86,429.72 L172.36,429.72 L172.86,429.72 L173.36,429.72 L173.86,429.72 L174.36,429.72 L174.86,429.72 L175.36,429.72 L175.86,429.72 L176.36,429.72 L176.86,429.72 L177.36,429.72 L177.86,429.72 L178.36,429.72 L178.86,429.72 L179.36,429.72 L179.86,429.72 L180.36,429.72 L180.86,429.72 L181.36,429.72 L181.86,429.72 L182.36,429.72 L182.86,429.72 L183.36,429.72 L183.86,429.72 L184.36,429.72 L184.86,429.72 L185.36,429.72 L185.86,429.72 L186.36,429.72 L186.86,429.72 L187.36,429.72 L187.86,429.72 L188.36,429.72 L188.86,429.72 L189.36,429.72 L189.86,429.72 L190.36,429.72 L190.86,429.72 L191.36,429.72 L191.86,429.72 L192.36,429.72 L192.86,429.72 L193.36,429.72 L193.86,429.72 L194.36,429.72 L194.86,429.72 L195.36,429.72 L195.86,429.72 L196.36,429.72 L196.86,429.72 L197.36,429.72 L197.86,429.72 L198.36,429.72 L198.86,429.72 L199.36,429.72 L199.86,429.72 L200.36,429.72 L200.86,429.72 L201.36,429.72 L201.86,429.72 L202.36,429.72 L202.86,429.72 L203.36,429.72 L203.86,429.72 L204.36,429.72 L204.86,429.72 L205.36,429.72 L205.86,429.72 L206.36,429.72 L206.86,429.72 L207.36,429.72 L207.86,429.72 L208.36,429.72 L208.86,429.72 L209.36,429.72 L209.86,429.72 L210.36,429.72 L210.86,429.72 L211.36,429.72 L211.86,429.72 L212.36,429.72 L212.86,429.72 L213.36,429.72 L213.86,429.72 L214.36,429.72 L214.86,429.72 L215.36,429.72 L215.86,429.72 L216.36,429.72 L216.86,429.72 L217.36,429.72 L217.86,429.72 L218.36,429.72 L218.86,429.72 L219.36,429.72 L219.86,429.72 L220.36,429.72 L220.86,429.72 L221.36,429.72 L221.86,429.72" fill="none" stroke="#1414e6" stroke-width="1.3" stroke-linejoin="round"/>
<path d="M91.76,429.42 L92.26,429.33 L92.76,429.22 L93.26,429.10 L93.76,428.96 L94.26,428.82 L94.76,428.66 L95.26,428.50 L95.76,428.32 L96.26,428.13 L96.76,427.93 L97.26,427.73 L97.76,427.51 L98.26,427.29 L98.76,427.06 L99.26,426.82 L99.76,426.58 L100.26,426.32 L100.76,426.07 L101.26,425.81 L101.76,425.54 L102.26,425.27 L102.76,425.00 L103.26,424.72 L103.76,424.45 L104.26,424.15 L104.76,423.84 L105.26,423.51 L105.76,423.17 L106.26,422.81 L106.76,422.43 L107.26,422.04 L107.76,421.63 L108.26,421.20 L108.76,420.76 L109.26,420.31 L109.76,419.84 L110.26,419.36 L110.76,418.86 L111.26,418.34 L111.76,417.80 L112.26,417.22 L112.76,416.60 L113.26,415.96 L113.76,415.28 L114.26,414.58 L114.76,413.86 L115.26,413.11 L115.76,412.34 L116.26,411.55 L116.76,410.74 L117.26,409.91 L117.76,409.05 L118.26,408.16 L118.76,407.23 L119.26,406.26 L119.76,405.24 L120.26,404.16 L120.76,403.03 L121.26,401.84 L121.76,400.56 L122.26,399.14 L122.76,397.62 L123.26,396.01 L123.76,394.32 L124.26,392.58 L124.76,390.82 L125.26,389.03 L125.76,387.18 L126.26,385.26 L126.76,383.28 L127.26,381.24 L127.76,379.17 L128.26,377.07 L128.76,374.95 L129.26,372.77 L129.76,370.50 L130.26,368.19 L130.76,365.88 L131.26,363.63 L131.76,361.46 L132.26,359.43 L132.76,357.49 L133.26,355.54 L133.76,353.52 L134.26,351.34 L134.76,349.04 L135.26,346.67 L135.76,344.28 L136.26,341.92 L136.76,339.44 L137.26,336.91 L137.76,334.51 L138.26,332.46 L138.76,330.86 L139.26,329.57 L139.76,328.38 L140.26,327.12 L140.76,325.58 L141.26,323.72 L141.76,321.66 L142.26,319.53 L142.76,317.47 L143.26,315.26 L143.76,312.75 L144.26,310.47 L144.76,308.96 L145.26,308.60 L145.76,308.50 L146.26,308.42 L146.76,308.38 L147.26,308.36 L147.76,308.68 L148.26,309.53 L148.76,310.75 L149.26,312.16 L149.76,313.76 L150.26,316.07 L150.76,318.90 L151.26,321.97 L151.76,325.01 L152.26,328.15 L152.76,331.51 L153.26,334.95 L153.76,338.38 L154.26,341.75 L154.76,345.20 L155.26,348.62 L155.76,351.91 L156.26,354.96 L156.76,357.75 L157.26,360.39 L157.76,362.96 L158.26,365.56 L158.76,368.22 L159.26,370.89 L159.76,373.56 L160.26,376.22 L160.76,378.90 L161.26,381.66 L161.76,384.44 L162.26,387.12 L162.76,389.58 L163.26,391.84 L163.76,393.99 L164.26,396.04 L164.76,397.99 L165.26,399.85 L165.76,401.61 L166.26,403.28 L166.76,404.86 L167.26,406.38 L167.76,407.84 L168.26,409.24 L168.76,410.59 L169.26,411.93 L169.76,413.25 L170.26,414.54 L170.76,415.79 L171.26,416.97 L171.76,418.06 L172.26,419.06 L172.76,419.98 L173.26,420.87 L173.76,421.74 L174.26,422.57 L174.76,423.37 L175.26,424.12 L175.76,424.81 L176.26,425.45 L176.76,426.00 L177.26,426.48 L177.76,426.88 L178.26,427.25 L178.76,427.61 L179.26,427.97 L179.76,428.30 L180.26,428.61 L180.76,428.90 L181.26,429.15 L181.76,429.36 L182.26,429.53 L182.76,429.64 L183.26,429.71" fill="none" stroke="#22c022" stroke-width="1.3" stroke-linejoin="round"/>
<path d="M74.00,429.72 L74.50,429.72 L75.00,429.72 L75.50,429.72 L76.00,429.72 L76.50,429.72 L77.00,429.72 L77.50,429.72 L78.00,429.72 L78.50,429.72 L79.00,429.72 L79.50,429.72 L80.00,429.72 L80.50,429.72 L81.00,429.72 L81.50,429.72 L82.00,429.72 L82.50,429.72 L83.00,429.71 L83.50,429.70 L84.00,429.68 L84.50,429.63 L85.00,429.58 L85.50,429.52 L86.00,429.44 L86.50,429.36 L87.00,429.26 L87.50,429.16 L88.00,429.06 L88.50,428.95 L89.00,428.84 L89.50,428.73 L90.00,428.62 L90.50,428.50 L91.00,428.39 L91.50,428.29 L92.00,428.19 L92.50,428.08 L93.00,427.97 L93.50,427.86 L94.00,427.74 L94.50,427.62 L95.00,427.50 L95.50,427.37 L96.00,427.23 L96.50,427.10 L97.00,426.96 L97.50,426.81 L98.00,426.66 L98.50,426.51 L99.00,426.35 L99.50,426.19 L100.00,426.02 L100.50,425.84 L101.00,425.66 L101.50,425.47 L102.00,425.27 L102.50,425.05 L103.00,424.82 L103.50,424.58 L104.00,424.32 L104.50,424.03 L105.00,423.72 L105.50,423.38 L106.00,423.01 L106.50,422.63 L107.00,422.23 L107.50,421.82 L108.00,421.40 L108.50,420.97 L109.00,420.54 L109.50,420.11 L110.00,419.67 L110.50,419.22 L111.00,418.75 L111.50,418.27 L112.00,417.77 L112.50,417.25 L113.00,416.72 L113.50,416.17 L114.00,415.61 L114.50,415.03 L115.00,414.45 L115.50,413.85 L116.00,413.23 L116.50,412.59 L117.00,411.90 L117.50,411.17 L118.00,410.40 L118.50,409.56 L119.00,408.62 L119.50,407.58 L120.00,406.44 L120.50,405.24 L121.00,403.99 L121.50,402.71 L122.00,401.32 L122.50,399.84 L123.00,398.29 L123.50,396.72 L124.00,395.16 L124.50,393.65 L125.00,392.15 L125.50,390.65 L126.00,389.15 L126.50,387.65 L127.00,386.15 L127.50,384.65 L128.00,383.11 L128.50,381.57 L129.00,380.04 L129.50,378.54 L130.00,377.10 L130.50,375.74 L131.00,374.52 L131.50,373.37 L132.00,372.21 L132.50,370.99 L133.00,369.63 L133.50,368.05 L134.00,366.22 L134.50,364.21 L135.00,362.08 L135.50,359.93 L136.00,357.84 L136.50,355.83 L137.00,353.83 L137.50,351.83 L138.00,349.83 L138.50,347.83 L139.00,345.83 L139.50,343.82 L140.00,341.78 L140.50,339.74 L141.00,337.71 L141.50,335.73 L142.00,333.81 L142.50,331.98 L143.00,330.24 L143.50,328.54 L144.00,326.84 L144.50,325.11 L145.00,323.30 L145.50,321.32 L146.00,319.20 L146.50,317.09 L147.00,315.15 L147.50,313.47 L148.00,311.68 L148.50,310.02 L149.00,308.81 L149.50,308.36 L150.00,308.60 L150.50,309.19 L151.00,310.02 L151.50,311.00 L152.00,311.99 L152.50,312.91 L153.00,313.80 L153.50,314.76 L154.00,315.76 L154.50,316.79 L155.00,317.86 L155.50,318.94 L156.00,320.02 L156.50,321.11 L157.00,322.21 L157.50,323.37 L158.00,324.59 L158.50,325.90 L159.00,327.31 L159.50,328.89 L160.00,330.70 L160.50,332.67 L161.00,334.76 L161.50,336.92 L162.00,339.08 L162.50,341.19 L163.00,343.20 L163.50,345.10 L164.00,346.97 L164.50,348.86 L165.00,350.86 L165.50,353.03 L166.00,355.43 L166.50,358.02 L167.00,360.86 L167.50,364.07 L168.00,367.75 L168.50,373.11 L169.00,376.54 L169.50,378.70 L170.00,380.40 L170.50,382.08 L171.00,384.13 L171.50,386.68 L172.00,389.48 L172.50,392.31 L173.00,394.93 L173.50,397.23 L174.00,399.41 L174.50,401.48 L175.00,403.46 L175.50,405.33 L176.00,407.11 L176.50,408.83 L177.00,410.50 L177.50,412.12 L178.00,413.63 L178.50,415.01 L179.00,416.23 L179.50,417.30 L180.00,418.30 L180.50,419.24 L181.00,420.12 L181.50,420.94 L182.00,421.72 L182.50,422.45 L183.00,423.13 L183.50,423.78 L184.00,424.40 L184.50,425.01 L185.00,425.61 L185.50,426.18 L186.00,426.71 L186.50,427.19 L187.00,427.61 L187.50,427.97 L188.00,428.26 L188.50,428.51 L189.00,428.75 L189.50,428.98 L190.00,429.19 L190.50,429.37 L191.00,429.52 L191.50,429.63 L192.00,429.70 L192.50,429.72 L193.00,429.72 L193.50,429.72 L194.00,429.72 L194.50,429.72 L195.00,429.72 L195.50,429.72 L196.00,429.72 L196.50,429.72 L197.00,429.72 L197.50,429.72 L198.00,429.72 L198.50,429.72 L199.00,429.72 L199.50,429.72 L200.00,429.72 L200.50,429.72 L201.00,429.72 L201.50,429.72 L202.00,429.72 L202.50,429.72 L203.00,429.72 L203.50,429.72 L204.00,429.72 L204.50,429.72 L205.00,429.72 L205.50,429.72 L206.00,429.72 L206.50,429.72 L207.00,429.72 L207.50,429.72 L208.00,429.72 L208.50,429.72 L209.00,429.72 L209.50,429.72 L210.00,429.72 L210.50,429.72 L211.00,429.72 L211.50,429.72 L212.00,429.72 L212.50,429.72 L213.00,429.72 L213.50,429.72 L214.00,429.72 L214.50,429.72 L215.00,429.72 L215.50,429.72 L216.00,429.72 L216.50,429.72 L217.00,429.72 L217.50,429.72 L218.00,429.72 L218.50,429.72 L219.00,429.72 L219.50,429.72 L220.00,429.72 L220.50,429.72 L221.00,429.72 L221.50,429.72 L222.00,429.72 L222.50,429.72 L223.00,429.72 L223.50,429.72 L224.00,429.72 L224.50,429.72 L225.00,429.72 L225.50,429.72 L226.00,429.72 L226.50,429.72 L227.00,429.72 L227.50,429.72 L228.00,429.72 L228.50,429.72 L229.00,429.72 L229.50,429.72 L230.00,429.72 L230.50,429.72 L231.00,429.72 L231.50,429.72 L232.00,429.72 L232.50,429.72 L233.00,429.72 L233.50,429.72 L234.00,429.72 L234.50,429.72 L235.00,429.72 L235.50,429.72 L236.00,429.72 L236.50,429.72 L237.00,429.72 L237.50,429.72 L238.00,429.72 L238.50,429.72 L239.00,429.72 L239.50,429.72 L240.00,429.72 L240.50,429.72 L241.00,429.72 L241.50,429.72 L242.00,429.72 L242.50,429.72 L243.00,429.72 L243.50,429.72 L244.00,429.72 L244.50,429.72 L245.00,429.72 L245.50,429.72 L246.00,429.72 L246.50,429.72 L247.00,429.72 L247.50,429.72 L248.00,429.72 L248.50,429.72 L249.00,429.72 L249.50,429.72 L250.00,429.72 L250.50,429.72 L251.00,429.72 L251.50,429.72 L252.00,429.72 L252.50,429.72 L253.00,429.72 L253.50,429.72 L254.00,429.72 L254.50,429.72 L255.00,429.72 L255.50,429.72 L256.00,429.72 L256.50,429.72 L257.00,429.72 L257.50,429.72 L258.00,429.72 L258.50,429.72 L259.00,429.72 L259.50,429.72 L260.00,429.72 L260.50,429.72 L261.00,429.72 L261.50,429.72 L262.00,429.72 L262.50,429.72 L263.00,429.72 L263.50,429.72 L264.00,429.72 L264.50,429.72 L265.00,429.72 L265.50,429.72 L266.00,429.72 L266.50,429.72 L267.00,429.72 L267.50,429.72 L268.00,429.72 L268.50,429.72 L269.00,429.72 L269.50,429.72 L270.00,429.72 L270.50,429.72 L271.00,429.72 L271.50,429.72 L272.00,429.72 L272.50,429.72 L273.00,429.72 L273.50,429.72 L274.00,429.72 L274.50,429.72 L275.00,429.72 L275.50,429.72 L276.00,429.72 L276.50,429.72 L277.00,429.72 L277.50,429.72 L278.00,429.72 L278.50,429.72 L279.00,429.72 L279.50,429.72 L280.00,429.72 L280.50,429.72 L281.00,429.72" fill="none" stroke="#d80000" stroke-width="1.9" stroke-linejoin="round"/>
<path d="M103.60,429.72 L104.10,429.70 L104.60,429.68 L105.10,429.66 L105.60,429.63 L106.10,429.59 L106.60,429.55 L107.10,429.51 L107.60,429.46 L108.10,429.40 L108.60,429.34 L109.10,429.28 L109.60,429.21 L110.10,429.14 L110.60,429.06 L111.10,428.99 L111.60,428.91 L112.10,428.82 L112.60,428.74 L113.10,428.65 L113.60,428.57 L114.10,428.48 L114.60,428.39 L115.10,428.30 L115.60,428.21 L116.10,428.11 L116.60,428.00 L117.10,427.89 L117.60,427.76 L118.10,427.63 L118.60,427.49 L119.10,427.35 L119.60,427.19 L120.10,427.03 L120.60,426.86 L121.10,426.69 L121.60,426.50 L122.10,426.31 L122.60,426.11 L123.10,425.91 L123.60,425.68 L124.10,425.43 L124.60,425.16 L125.10,424.87 L125.60,424.56 L126.10,424.24 L126.60,423.91 L127.10,423.56 L127.60,423.19 L128.10,422.82 L128.60,422.44 L129.10,422.05 L129.60,421.63 L130.10,421.19 L130.60,420.73 L131.10,420.24 L131.60,419.72 L132.10,419.18 L132.60,418.60 L133.10,418.00 L133.60,417.36 L134.10,416.66 L134.60,415.91 L135.10,415.11 L135.60,414.27 L136.10,413.39 L136.60,412.47 L137.10,411.53 L137.60,410.55 L138.10,409.54 L138.60,408.45 L139.10,407.31 L139.60,406.12 L140.10,404.87 L140.60,403.58 L141.10,402.25 L141.60,400.87 L142.10,399.43 L142.60,397.93 L143.10,396.36 L143.60,394.74 L144.10,393.06 L144.60,391.32 L145.10,389.54 L145.60,387.74 L146.10,385.78 L146.60,383.40 L147.10,380.10 L147.60,376.30 L148.10,372.82 L148.60,369.67 L149.10,366.69 L149.60,363.97 L150.10,361.67 L150.60,359.58 L151.10,357.40 L151.60,354.82 L152.10,351.36 L152.60,346.91 L153.10,342.07 L153.60,337.49 L154.10,333.73 L154.60,330.44 L155.10,327.41 L155.60,324.57 L156.10,321.88 L156.60,319.26 L157.10,316.70 L157.60,314.33 L158.10,312.25 L158.60,310.45 L159.10,308.74 L159.60,308.07 L160.10,308.53 L160.60,309.52 L161.10,310.77 L161.60,312.11 L162.10,313.89 L162.60,316.00 L163.10,318.26 L163.60,320.47 L164.10,322.71 L164.60,325.05 L165.10,327.44 L165.60,329.82 L166.10,332.08 L166.60,334.17 L167.10,336.31 L167.60,338.74 L168.10,341.76 L168.60,346.21 L169.10,351.19 L169.60,355.25 L170.10,358.51 L170.60,361.44 L171.10,364.24 L171.60,367.10 L172.10,370.12 L172.60,373.17 L173.10,376.21 L173.60,379.17 L174.10,382.01 L174.60,384.73 L175.10,387.37 L175.60,389.99 L176.10,392.62 L176.60,395.35 L177.10,398.14 L177.60,400.87 L178.10,403.43 L178.60,405.75 L179.10,407.95 L179.60,410.02 L180.10,411.91 L180.60,413.57 L181.10,415.07 L181.60,416.48 L182.10,417.79 L182.60,418.98 L183.10,420.05 L183.60,420.98 L184.10,421.84 L184.60,422.65 L185.10,423.42 L185.60,424.13 L186.10,424.80 L186.60,425.40 L187.10,425.95 L187.60,426.44 L188.10,426.87 L188.60,427.28 L189.10,427.67 L189.60,428.04 L190.10,428.38 L190.60,428.68 L191.10,428.95 L191.60,429.17 L192.10,429.34 L192.60,429.46 L193.10,429.57 L193.60,429.67 L194.10,429.75 L194.60,429.83 L195.10,429.90 L195.60,429.95 L196.10,429.99 L196.60,430.01" fill="none" stroke="#000" stroke-width="1.2" stroke-linejoin="round"/>
<line x1="74.50" y1="300.60" x2="282.60" y2="300.60" stroke="#808080" stroke-width="1.3"/>
<line x1="282.60" y1="300.60" x2="282.60" y2="430.30" stroke="#808080" stroke-width="1.3"/>
<line x1="74.50" y1="300.60" x2="74.50" y2="431.10" stroke="#000" stroke-width="1.6"/>
<line x1="73.70" y1="430.30" x2="283.20" y2="430.30" stroke="#000" stroke-width="1.6"/>
<line x1="69.50" y1="430.30" x2="74.50" y2="430.30" stroke="#000" stroke-width="1.4"/>
<line x1="72.00" y1="424.09" x2="74.50" y2="424.09" stroke="#000" stroke-width="1.1"/>
<line x1="72.00" y1="417.87" x2="74.50" y2="417.87" stroke="#000" stroke-width="1.1"/>
<line x1="72.00" y1="411.66" x2="74.50" y2="411.66" stroke="#000" stroke-width="1.1"/>
<line x1="69.50" y1="405.44" x2="74.50" y2="405.44" stroke="#000" stroke-width="1.4"/>
<line x1="72.00" y1="399.23" x2="74.50" y2="399.23" stroke="#000" stroke-width="1.1"/>
<line x1="72.00" y1="393.01" x2="74.50" y2="393.01" stroke="#000" stroke-width="1.1"/>
<line x1="72.00" y1="386.80" x2="74.50" y2="386.80" stroke="#000" stroke-width="1.1"/>
<line x1="69.50" y1="380.58" x2="74.50" y2="380.58" stroke="#000" stroke-width="1.4"/>
<line x1="72.00" y1="374.37" x2="74.50" y2="374.37" stroke="#000" stroke-width="1.1"/>
<line x1="72.00" y1="368.15" x2="74.50" y2="368.15" stroke="#000" stroke-width="1.1"/>
<line x1="72.00" y1="361.94" x2="74.50" y2="361.94" stroke="#000" stroke-width="1.1"/>
<line x1="69.50" y1="355.72" x2="74.50" y2="355.72" stroke="#000" stroke-width="1.4"/>
<line x1="72.00" y1="349.50" x2="74.50" y2="349.50" stroke="#000" stroke-width="1.1"/>
<line x1="72.00" y1="343.29" x2="74.50" y2="343.29" stroke="#000" stroke-width="1.1"/>
<line x1="72.00" y1="337.08" x2="74.50" y2="337.08" stroke="#000" stroke-width="1.1"/>
<line x1="69.50" y1="330.86" x2="74.50" y2="330.86" stroke="#000" stroke-width="1.4"/>
<line x1="72.00" y1="324.64" x2="74.50" y2="324.64" stroke="#000" stroke-width="1.1"/>
<line x1="72.00" y1="318.43" x2="74.50" y2="318.43" stroke="#000" stroke-width="1.1"/>
<line x1="72.00" y1="312.21" x2="74.50" y2="312.21" stroke="#000" stroke-width="1.1"/>
<line x1="69.50" y1="306.00" x2="74.50" y2="306.00" stroke="#000" stroke-width="1.4"/>
<text x="62.60" y="437.30" font-size="19.6" text-anchor="end">0</text>
<text x="62.60" y="412.44" font-size="19.6" text-anchor="end">20</text>
<text x="62.60" y="387.58" font-size="19.6" text-anchor="end">40</text>
<text x="62.60" y="362.72" font-size="19.6" text-anchor="end">60</text>
<text x="62.60" y="337.86" font-size="19.6" text-anchor="end">80</text>
<text x="62.60" y="313.00" font-size="19.6" text-anchor="end">100</text>
<line x1="94.50" y1="430.30" x2="94.50" y2="434.30" stroke="#000" stroke-width="1.4"/>
<line x1="119.00" y1="430.30" x2="119.00" y2="434.30" stroke="#000" stroke-width="1.4"/>
<line x1="168.00" y1="430.30" x2="168.00" y2="434.30" stroke="#000" stroke-width="1.4"/>
<line x1="216.70" y1="430.30" x2="216.70" y2="434.30" stroke="#000" stroke-width="1.4"/>
<line x1="264.50" y1="430.30" x2="264.50" y2="434.30" stroke="#000" stroke-width="1.4"/>
<line x1="84.75" y1="430.30" x2="84.75" y2="432.90" stroke="#000" stroke-width="1.0"/>
<line x1="93.38" y1="430.30" x2="93.38" y2="432.90" stroke="#000" stroke-width="1.0"/>
<line x1="99.50" y1="430.30" x2="99.50" y2="432.90" stroke="#000" stroke-width="1.0"/>
<line x1="104.25" y1="430.30" x2="104.25" y2="432.90" stroke="#000" stroke-width="1.0"/>
<line x1="108.13" y1="430.30" x2="108.13" y2="432.90" stroke="#000" stroke-width="1.0"/>
<line x1="111.41" y1="430.30" x2="111.41" y2="432.90" stroke="#000" stroke-width="1.0"/>
<line x1="114.25" y1="430.30" x2="114.25" y2="432.90" stroke="#000" stroke-width="1.0"/>
<line x1="116.76" y1="430.30" x2="116.76" y2="432.90" stroke="#000" stroke-width="1.0"/>
<line x1="133.75" y1="430.30" x2="133.75" y2="432.90" stroke="#000" stroke-width="1.0"/>
<line x1="142.38" y1="430.30" x2="142.38" y2="432.90" stroke="#000" stroke-width="1.0"/>
<line x1="148.50" y1="430.30" x2="148.50" y2="432.90" stroke="#000" stroke-width="1.0"/>
<line x1="153.25" y1="430.30" x2="153.25" y2="432.90" stroke="#000" stroke-width="1.0"/>
<line x1="157.13" y1="430.30" x2="157.13" y2="432.90" stroke="#000" stroke-width="1.0"/>
<line x1="160.41" y1="430.30" x2="160.41" y2="432.90" stroke="#000" stroke-width="1.0"/>
<line x1="163.25" y1="430.30" x2="163.25" y2="432.90" stroke="#000" stroke-width="1.0"/>
<line x1="165.76" y1="430.30" x2="165.76" y2="432.90" stroke="#000" stroke-width="1.0"/>
<line x1="182.75" y1="430.30" x2="182.75" y2="432.90" stroke="#000" stroke-width="1.0"/>
<line x1="191.38" y1="430.30" x2="191.38" y2="432.90" stroke="#000" stroke-width="1.0"/>
<line x1="197.50" y1="430.30" x2="197.50" y2="432.90" stroke="#000" stroke-width="1.0"/>
<line x1="202.25" y1="430.30" x2="202.25" y2="432.90" stroke="#000" stroke-width="1.0"/>
<line x1="206.13" y1="430.30" x2="206.13" y2="432.90" stroke="#000" stroke-width="1.0"/>
<line x1="209.41" y1="430.30" x2="209.41" y2="432.90" stroke="#000" stroke-width="1.0"/>
<line x1="212.25" y1="430.30" x2="212.25" y2="432.90" stroke="#000" stroke-width="1.0"/>
<line x1="214.76" y1="430.30" x2="214.76" y2="432.90" stroke="#000" stroke-width="1.0"/>
<line x1="231.45" y1="430.30" x2="231.45" y2="432.90" stroke="#000" stroke-width="1.0"/>
<line x1="240.08" y1="430.30" x2="240.08" y2="432.90" stroke="#000" stroke-width="1.0"/>
<line x1="246.20" y1="430.30" x2="246.20" y2="432.90" stroke="#000" stroke-width="1.0"/>
<line x1="250.95" y1="430.30" x2="250.95" y2="432.90" stroke="#000" stroke-width="1.0"/>
<line x1="254.83" y1="430.30" x2="254.83" y2="432.90" stroke="#000" stroke-width="1.0"/>
<line x1="258.11" y1="430.30" x2="258.11" y2="432.90" stroke="#000" stroke-width="1.0"/>
<line x1="260.95" y1="430.30" x2="260.95" y2="432.90" stroke="#000" stroke-width="1.0"/>
<line x1="263.46" y1="430.30" x2="263.46" y2="432.90" stroke="#000" stroke-width="1.0"/>
<line x1="279.25" y1="430.30" x2="279.25" y2="432.90" stroke="#000" stroke-width="1.0"/>
<text x="93.30" y="458.40" font-size="19.6" text-anchor="middle">0</text>
<text x="102.30" y="458.40" font-size="19.6">10<tspan font-size="14.5" dy="-5.4">2</tspan></text>
<text x="151.40" y="458.40" font-size="19.6">10<tspan font-size="14.5" dy="-5.4">3</tspan></text>
<text x="201.30" y="458.40" font-size="19.6">10<tspan font-size="14.5" dy="-5.4">4</tspan></text>
<text x="251.20" y="458.40" font-size="19.6">10<tspan font-size="14.5" dy="-5.4">5</tspan></text>
<text x="77.90" y="483.30" font-size="20.5" text-anchor="start">Fas</text>
<line x1="116.60" y1="477.00" x2="217.50" y2="477.00" stroke="#000" stroke-width="2.2"/>
<path d="M216.50,471.75 L227.50,477.00 L216.50,482.25 Z" fill="#000" stroke="none" stroke-width="0"/>
<text x="172.7" y="267.5" font-size="20.9" text-anchor="middle"><tspan font-style="italic">In vitro</tspan>-activated</text>
<text x="172.3" y="292.2" font-size="20.8" text-anchor="middle">CD4<tspan font-size="14" dy="-4.7">+</tspan><tspan dy="4.7"> T cells</tspan></text>
<text x="20.40" y="368.40" font-size="20.6" text-anchor="middle" transform="rotate(-90 20.40 368.40)">% of max</text>
<line x1="550.00" y1="101.00" x2="550.00" y2="368.50" stroke="#000" stroke-width="2.2"/>
<line x1="549.00" y1="367.40" x2="946.00" y2="367.40" stroke="#000" stroke-width="2.2"/>
<line x1="540.80" y1="367.18" x2="550.00" y2="367.18" stroke="#000" stroke-width="2.0"/>
<text x="532.90" y="374.28" font-size="20.2" text-anchor="end">−20</text>
<line x1="540.80" y1="323.00" x2="550.00" y2="323.00" stroke="#000" stroke-width="2.0"/>
<text x="532.90" y="330.10" font-size="20.2" text-anchor="end">0</text>
<line x1="540.80" y1="278.82" x2="550.00" y2="278.82" stroke="#000" stroke-width="2.0"/>
<text x="532.90" y="285.92" font-size="20.2" text-anchor="end">20</text>
<line x1="540.80" y1="234.64" x2="550.00" y2="234.64" stroke="#000" stroke-width="2.0"/>
<text x="532.90" y="241.74" font-size="20.2" text-anchor="end">40</text>
<line x1="540.80" y1="190.46" x2="550.00" y2="190.46" stroke="#000" stroke-width="2.0"/>
<text x="532.90" y="197.56" font-size="20.2" text-anchor="end">60</text>
<line x1="540.80" y1="146.28" x2="550.00" y2="146.28" stroke="#000" stroke-width="2.0"/>
<text x="532.90" y="153.38" font-size="20.2" text-anchor="end">80</text>
<line x1="540.80" y1="102.10" x2="550.00" y2="102.10" stroke="#000" stroke-width="2.0"/>
<text x="532.90" y="109.20" font-size="20.2" text-anchor="end">100</text>
<line x1="574.20" y1="367.40" x2="574.20" y2="377.50" stroke="#000" stroke-width="2.0"/>
<text x="574.20" y="400.80" font-size="20.2" text-anchor="middle">0</text>
<line x1="623.77" y1="367.40" x2="623.77" y2="377.50" stroke="#000" stroke-width="2.0"/>
<text x="623.77" y="400.80" font-size="20.2" text-anchor="middle">5</text>
<line x1="673.34" y1="367.40" x2="673.34" y2="377.50" stroke="#000" stroke-width="2.0"/>
<text x="673.34" y="400.80" font-size="20.2" text-anchor="middle">10</text>
<line x1="722.91" y1="367.40" x2="722.91" y2="377.50" stroke="#000" stroke-width="2.0"/>
<text x="722.91" y="400.80" font-size="20.2" text-anchor="middle">25</text>
<line x1="772.48" y1="367.40" x2="772.48" y2="377.50" stroke="#000" stroke-width="2.0"/>
<text x="772.48" y="400.80" font-size="20.2" text-anchor="middle">50</text>
<line x1="822.05" y1="367.40" x2="822.05" y2="377.50" stroke="#000" stroke-width="2.0"/>
<text x="822.05" y="400.80" font-size="20.2" text-anchor="middle">100</text>
<line x1="871.62" y1="367.40" x2="871.62" y2="377.50" stroke="#000" stroke-width="2.0"/>
<text x="871.62" y="400.80" font-size="20.2" text-anchor="middle">250</text>
<line x1="921.19" y1="367.40" x2="921.19" y2="377.50" stroke="#000" stroke-width="2.0"/>
<text x="921.19" y="400.80" font-size="20.2" text-anchor="middle">500</text>
<text x="513.1" y="435.8" font-size="20.8">FasL-LZ (ng ml<tspan font-size="14" dy="-5.6">−1</tspan><tspan dy="5.6">)</tspan></text>
<line x1="685.70" y1="430.60" x2="778.60" y2="430.60" stroke="#000" stroke-width="4.0"/>
<path d="M777.60,424.30 L790.60,430.60 L777.60,436.90 Z" fill="#000" stroke="none" stroke-width="0"/>
<text x="486.20" y="233.70" font-size="20.9" text-anchor="middle" transform="rotate(-90 486.20 233.70)">% specific cell death</text>
<path d="M574.20,323.00 L623.77,323.88 L673.34,324.10 L722.91,327.42 L772.48,321.67 L822.05,322.56 L871.62,324.99 L921.19,322.34" fill="none" stroke="#1a1ad8" stroke-width="2.2" stroke-linejoin="round"/>
<path d="M574.20,323.00 L623.77,324.99 L673.34,324.99 L722.91,320.35 L772.48,316.15 L822.05,308.20 L871.62,299.36 L921.19,300.69" fill="none" stroke="#ee8428" stroke-width="2.2" stroke-linejoin="round"/>
<path d="M574.20,323.00 L623.77,320.79 L673.34,313.50 L722.91,288.10 L772.48,264.90 L822.05,241.49 L871.62,206.81 L921.19,204.16" fill="none" stroke="#000" stroke-width="2.3" stroke-linejoin="round" stroke-dasharray="8.5,5.5"/>
<path d="M574.20,323.00 L623.77,318.58 L673.34,305.77 L722.91,267.77 L772.48,233.98 L822.05,203.05 L871.62,148.05 L921.19,132.58" fill="none" stroke="#000" stroke-width="2.3" stroke-linejoin="round"/>
<line x1="574.20" y1="322.12" x2="574.20" y2="323.88" stroke="#000" stroke-width="2.0"/>
<line x1="568.50" y1="322.12" x2="579.90" y2="322.12" stroke="#000" stroke-width="2.0"/>
<line x1="568.50" y1="323.88" x2="579.90" y2="323.88" stroke="#000" stroke-width="2.0"/>
<circle cx="574.20" cy="323.00" r="5.2" fill="#000"/>
<line x1="574.20" y1="322.12" x2="574.20" y2="323.88" stroke="#000" stroke-width="2.0"/>
<line x1="568.50" y1="322.12" x2="579.90" y2="322.12" stroke="#000" stroke-width="2.0"/>
<line x1="568.50" y1="323.88" x2="579.90" y2="323.88" stroke="#000" stroke-width="2.0"/>
<path d="M568.70,318.55 L579.70,318.55 L574.20,328.45 Z" fill="#000" stroke="none" stroke-width="0"/>
<rect x="569.00" y="318.10" width="10.40" height="9.80" fill="#1a1ae6"/>
<line x1="574.20" y1="322.34" x2="574.20" y2="323.66" stroke="#10104a" stroke-width="1.8"/>
<line x1="569.00" y1="322.34" x2="579.40" y2="322.34" stroke="#10104a" stroke-width="1.8"/>
<line x1="569.00" y1="323.66" x2="579.40" y2="323.66" stroke="#10104a" stroke-width="1.8"/>
<path d="M569.95,326.32 L578.45,326.32 L574.20,318.68 Z" fill="#ee8428" stroke="none" stroke-width="0"/>
<line x1="574.20" y1="322.12" x2="574.20" y2="323.88" stroke="#1a1008" stroke-width="2.0"/>
<line x1="568.50" y1="322.12" x2="579.90" y2="322.12" stroke="#1a1008" stroke-width="2.0"/>
<line x1="568.50" y1="323.88" x2="579.90" y2="323.88" stroke="#1a1008" stroke-width="2.0"/>
<rect x="618.57" y="318.98" width="10.40" height="9.80" fill="#1a1ae6"/>
<line x1="623.77" y1="321.23" x2="623.77" y2="326.53" stroke="#10104a" stroke-width="1.8"/>
<line x1="618.57" y1="321.23" x2="628.97" y2="321.23" stroke="#10104a" stroke-width="1.8"/>
<line x1="618.57" y1="326.53" x2="628.97" y2="326.53" stroke="#10104a" stroke-width="1.8"/>
<path d="M619.52,328.31 L628.02,328.31 L623.77,320.66 Z" fill="#ee8428" stroke="none" stroke-width="0"/>
<line x1="623.77" y1="318.80" x2="623.77" y2="331.17" stroke="#1a1008" stroke-width="2.0"/>
<line x1="618.07" y1="318.80" x2="629.47" y2="318.80" stroke="#1a1008" stroke-width="2.0"/>
<line x1="618.07" y1="331.17" x2="629.47" y2="331.17" stroke="#1a1008" stroke-width="2.0"/>
<line x1="623.77" y1="317.70" x2="623.77" y2="323.88" stroke="#000" stroke-width="2.0"/>
<line x1="618.07" y1="317.70" x2="629.47" y2="317.70" stroke="#000" stroke-width="2.0"/>
<line x1="618.07" y1="323.88" x2="629.47" y2="323.88" stroke="#000" stroke-width="2.0"/>
<path d="M618.27,316.34 L629.27,316.34 L623.77,326.24 Z" fill="#000" stroke="none" stroke-width="0"/>
<line x1="623.77" y1="313.28" x2="623.77" y2="323.88" stroke="#000" stroke-width="2.0"/>
<line x1="618.07" y1="313.28" x2="629.47" y2="313.28" stroke="#000" stroke-width="2.0"/>
<line x1="618.07" y1="323.88" x2="629.47" y2="323.88" stroke="#000" stroke-width="2.0"/>
<circle cx="623.77" cy="318.58" r="5.2" fill="#000"/>
<rect x="668.14" y="319.20" width="10.40" height="9.80" fill="#1a1ae6"/>
<line x1="673.34" y1="320.79" x2="673.34" y2="327.42" stroke="#10104a" stroke-width="1.8"/>
<line x1="668.14" y1="320.79" x2="678.54" y2="320.79" stroke="#10104a" stroke-width="1.8"/>
<line x1="668.14" y1="327.42" x2="678.54" y2="327.42" stroke="#10104a" stroke-width="1.8"/>
<path d="M669.09,328.31 L677.59,328.31 L673.34,320.66 Z" fill="#ee8428" stroke="none" stroke-width="0"/>
<line x1="673.34" y1="321.67" x2="673.34" y2="328.30" stroke="#1a1008" stroke-width="2.0"/>
<line x1="667.64" y1="321.67" x2="679.04" y2="321.67" stroke="#1a1008" stroke-width="2.0"/>
<line x1="667.64" y1="328.30" x2="679.04" y2="328.30" stroke="#1a1008" stroke-width="2.0"/>
<line x1="673.34" y1="310.41" x2="673.34" y2="316.59" stroke="#000" stroke-width="2.0"/>
<line x1="667.64" y1="310.41" x2="679.04" y2="310.41" stroke="#000" stroke-width="2.0"/>
<line x1="667.64" y1="316.59" x2="679.04" y2="316.59" stroke="#000" stroke-width="2.0"/>
<path d="M667.84,309.05 L678.84,309.05 L673.34,318.95 Z" fill="#000" stroke="none" stroke-width="0"/>
<line x1="673.34" y1="300.47" x2="673.34" y2="311.07" stroke="#000" stroke-width="2.0"/>
<line x1="667.64" y1="300.47" x2="679.04" y2="300.47" stroke="#000" stroke-width="2.0"/>
<line x1="667.64" y1="311.07" x2="679.04" y2="311.07" stroke="#000" stroke-width="2.0"/>
<circle cx="673.34" cy="305.77" r="5.2" fill="#000"/>
<rect x="717.71" y="322.52" width="10.40" height="9.80" fill="#1a1ae6"/>
<line x1="722.91" y1="324.10" x2="722.91" y2="330.73" stroke="#10104a" stroke-width="1.8"/>
<line x1="717.71" y1="324.10" x2="728.11" y2="324.10" stroke="#10104a" stroke-width="1.8"/>
<line x1="717.71" y1="330.73" x2="728.11" y2="330.73" stroke="#10104a" stroke-width="1.8"/>
<path d="M718.66,323.67 L727.16,323.67 L722.91,316.02 Z" fill="#ee8428" stroke="none" stroke-width="0"/>
<line x1="722.91" y1="315.49" x2="722.91" y2="325.21" stroke="#1a1008" stroke-width="2.0"/>
<line x1="717.21" y1="315.49" x2="728.61" y2="315.49" stroke="#1a1008" stroke-width="2.0"/>
<line x1="717.21" y1="325.21" x2="728.61" y2="325.21" stroke="#1a1008" stroke-width="2.0"/>
<line x1="722.91" y1="285.01" x2="722.91" y2="291.19" stroke="#000" stroke-width="2.0"/>
<line x1="717.21" y1="285.01" x2="728.61" y2="285.01" stroke="#000" stroke-width="2.0"/>
<line x1="717.21" y1="291.19" x2="728.61" y2="291.19" stroke="#000" stroke-width="2.0"/>
<path d="M717.41,283.65 L728.41,283.65 L722.91,293.55 Z" fill="#000" stroke="none" stroke-width="0"/>
<line x1="722.91" y1="259.38" x2="722.91" y2="276.17" stroke="#000" stroke-width="2.0"/>
<line x1="717.21" y1="259.38" x2="728.61" y2="259.38" stroke="#000" stroke-width="2.0"/>
<line x1="717.21" y1="276.17" x2="728.61" y2="276.17" stroke="#000" stroke-width="2.0"/>
<circle cx="722.91" cy="267.77" r="5.2" fill="#000"/>
<rect x="767.28" y="316.77" width="10.40" height="9.80" fill="#1a1ae6"/>
<line x1="772.48" y1="317.70" x2="772.48" y2="325.65" stroke="#10104a" stroke-width="1.8"/>
<line x1="767.28" y1="317.70" x2="777.68" y2="317.70" stroke="#10104a" stroke-width="1.8"/>
<line x1="767.28" y1="325.65" x2="777.68" y2="325.65" stroke="#10104a" stroke-width="1.8"/>
<path d="M768.23,319.48 L776.73,319.48 L772.48,311.83 Z" fill="#ee8428" stroke="none" stroke-width="0"/>
<line x1="772.48" y1="310.85" x2="772.48" y2="321.45" stroke="#1a1008" stroke-width="2.0"/>
<line x1="766.78" y1="310.85" x2="778.18" y2="310.85" stroke="#1a1008" stroke-width="2.0"/>
<line x1="766.78" y1="321.45" x2="778.18" y2="321.45" stroke="#1a1008" stroke-width="2.0"/>
<line x1="772.48" y1="261.37" x2="772.48" y2="268.44" stroke="#000" stroke-width="2.0"/>
<line x1="766.78" y1="261.37" x2="778.18" y2="261.37" stroke="#000" stroke-width="2.0"/>
<line x1="766.78" y1="268.44" x2="778.18" y2="268.44" stroke="#000" stroke-width="2.0"/>
<path d="M766.98,260.45 L777.98,260.45 L772.48,270.35 Z" fill="#000" stroke="none" stroke-width="0"/>
<line x1="772.48" y1="225.80" x2="772.48" y2="242.15" stroke="#000" stroke-width="2.0"/>
<line x1="766.78" y1="225.80" x2="778.18" y2="225.80" stroke="#000" stroke-width="2.0"/>
<line x1="766.78" y1="242.15" x2="778.18" y2="242.15" stroke="#000" stroke-width="2.0"/>
<circle cx="772.48" cy="233.98" r="5.2" fill="#000"/>
<rect x="816.85" y="317.66" width="10.40" height="9.80" fill="#1a1ae6"/>
<line x1="822.05" y1="319.24" x2="822.05" y2="325.87" stroke="#10104a" stroke-width="1.8"/>
<line x1="816.85" y1="319.24" x2="827.25" y2="319.24" stroke="#10104a" stroke-width="1.8"/>
<line x1="816.85" y1="325.87" x2="827.25" y2="325.87" stroke="#10104a" stroke-width="1.8"/>
<path d="M817.80,311.52 L826.30,311.52 L822.05,303.87 Z" fill="#ee8428" stroke="none" stroke-width="0"/>
<line x1="822.05" y1="303.78" x2="822.05" y2="312.62" stroke="#1a1008" stroke-width="2.0"/>
<line x1="816.35" y1="303.78" x2="827.75" y2="303.78" stroke="#1a1008" stroke-width="2.0"/>
<line x1="816.35" y1="312.62" x2="827.75" y2="312.62" stroke="#1a1008" stroke-width="2.0"/>
<line x1="822.05" y1="237.95" x2="822.05" y2="245.02" stroke="#000" stroke-width="2.0"/>
<line x1="816.35" y1="237.95" x2="827.75" y2="237.95" stroke="#000" stroke-width="2.0"/>
<line x1="816.35" y1="245.02" x2="827.75" y2="245.02" stroke="#000" stroke-width="2.0"/>
<path d="M816.55,237.04 L827.55,237.04 L822.05,246.94 Z" fill="#000" stroke="none" stroke-width="0"/>
<line x1="822.05" y1="198.19" x2="822.05" y2="207.91" stroke="#000" stroke-width="2.0"/>
<line x1="816.35" y1="198.19" x2="827.75" y2="198.19" stroke="#000" stroke-width="2.0"/>
<line x1="816.35" y1="207.91" x2="827.75" y2="207.91" stroke="#000" stroke-width="2.0"/>
<circle cx="822.05" cy="203.05" r="5.2" fill="#000"/>
<rect x="866.42" y="320.09" width="10.40" height="9.80" fill="#1a1ae6"/>
<line x1="871.62" y1="321.67" x2="871.62" y2="328.30" stroke="#10104a" stroke-width="1.8"/>
<line x1="866.42" y1="321.67" x2="876.82" y2="321.67" stroke="#10104a" stroke-width="1.8"/>
<line x1="866.42" y1="328.30" x2="876.82" y2="328.30" stroke="#10104a" stroke-width="1.8"/>
<path d="M867.37,302.69 L875.87,302.69 L871.62,295.04 Z" fill="#ee8428" stroke="none" stroke-width="0"/>
<line x1="871.62" y1="294.95" x2="871.62" y2="303.78" stroke="#1a1008" stroke-width="2.0"/>
<line x1="865.92" y1="294.95" x2="877.32" y2="294.95" stroke="#1a1008" stroke-width="2.0"/>
<line x1="865.92" y1="303.78" x2="877.32" y2="303.78" stroke="#1a1008" stroke-width="2.0"/>
<line x1="871.62" y1="204.38" x2="871.62" y2="209.24" stroke="#000" stroke-width="2.0"/>
<line x1="865.92" y1="204.38" x2="877.32" y2="204.38" stroke="#000" stroke-width="2.0"/>
<line x1="865.92" y1="209.24" x2="877.32" y2="209.24" stroke="#000" stroke-width="2.0"/>
<path d="M866.12,202.36 L877.12,202.36 L871.62,212.26 Z" fill="#000" stroke="none" stroke-width="0"/>
<line x1="871.62" y1="145.18" x2="871.62" y2="150.92" stroke="#000" stroke-width="2.0"/>
<line x1="865.92" y1="145.18" x2="877.32" y2="145.18" stroke="#000" stroke-width="2.0"/>
<line x1="865.92" y1="150.92" x2="877.32" y2="150.92" stroke="#000" stroke-width="2.0"/>
<circle cx="871.62" cy="148.05" r="5.2" fill="#000"/>
<rect x="915.99" y="317.44" width="10.40" height="9.80" fill="#1a1ae6"/>
<line x1="921.19" y1="319.02" x2="921.19" y2="325.65" stroke="#10104a" stroke-width="1.8"/>
<line x1="915.99" y1="319.02" x2="926.39" y2="319.02" stroke="#10104a" stroke-width="1.8"/>
<line x1="915.99" y1="325.65" x2="926.39" y2="325.65" stroke="#10104a" stroke-width="1.8"/>
<path d="M916.94,304.01 L925.44,304.01 L921.19,296.36 Z" fill="#ee8428" stroke="none" stroke-width="0"/>
<line x1="921.19" y1="297.82" x2="921.19" y2="303.56" stroke="#1a1008" stroke-width="2.0"/>
<line x1="915.49" y1="297.82" x2="926.89" y2="297.82" stroke="#1a1008" stroke-width="2.0"/>
<line x1="915.49" y1="303.56" x2="926.89" y2="303.56" stroke="#1a1008" stroke-width="2.0"/>
<line x1="921.19" y1="201.73" x2="921.19" y2="206.59" stroke="#000" stroke-width="2.0"/>
<line x1="915.49" y1="201.73" x2="926.89" y2="201.73" stroke="#000" stroke-width="2.0"/>
<line x1="915.49" y1="206.59" x2="926.89" y2="206.59" stroke="#000" stroke-width="2.0"/>
<path d="M915.69,199.71 L926.69,199.71 L921.19,209.61 Z" fill="#000" stroke="none" stroke-width="0"/>
<line x1="921.19" y1="130.82" x2="921.19" y2="134.35" stroke="#000" stroke-width="2.0"/>
<line x1="915.49" y1="130.82" x2="926.89" y2="130.82" stroke="#000" stroke-width="2.0"/>
<line x1="915.49" y1="134.35" x2="926.89" y2="134.35" stroke="#000" stroke-width="2.0"/>
<circle cx="921.19" cy="132.58" r="5.2" fill="#000"/>
<line x1="668.09" y1="275.00" x2="678.59" y2="275.00" stroke="#000" stroke-width="1.35"/>
<line x1="673.34" y1="269.75" x2="673.34" y2="280.25" stroke="#000" stroke-width="1.35"/>
<path d="M673.34,289.40 L673.34,285.70 M673.34,289.40 L676.86,288.26 M673.34,289.40 L675.51,292.39 M673.34,289.40 L671.17,292.39 M673.34,289.40 L669.82,288.26 " fill="none" stroke="#000" stroke-width="1.5" stroke-linecap="butt"/>
<rect x="719.66" y="217.95" width="6.50" height="6.50" fill="none" stroke="#000" stroke-width="1.5"/>
<line x1="717.66" y1="235.70" x2="728.16" y2="235.70" stroke="#000" stroke-width="1.35"/>
<line x1="722.91" y1="230.45" x2="722.91" y2="240.95" stroke="#000" stroke-width="1.35"/>
<path d="M722.91,248.50 L722.91,244.80 M722.91,248.50 L726.43,247.36 M722.91,248.50 L725.08,251.49 M722.91,248.50 L720.74,251.49 M722.91,248.50 L719.39,247.36 " fill="none" stroke="#000" stroke-width="1.5" stroke-linecap="butt"/>
<path d="M719.36,296.25 L726.46,296.25 L722.91,302.60 Z" fill="none" stroke="#000" stroke-width="1.5" stroke-linejoin="miter"/>
<circle cx="722.91" cy="309.00" r="2.65" fill="none" stroke="#000" stroke-width="1.5"/>
<rect x="769.23" y="185.55" width="6.50" height="6.50" fill="none" stroke="#000" stroke-width="1.5"/>
<line x1="767.23" y1="203.90" x2="777.73" y2="203.90" stroke="#000" stroke-width="1.35"/>
<line x1="772.48" y1="198.65" x2="772.48" y2="209.15" stroke="#000" stroke-width="1.35"/>
<path d="M772.48,216.50 L772.48,212.80 M772.48,216.50 L776.00,215.36 M772.48,216.50 L774.65,219.49 M772.48,216.50 L770.31,219.49 M772.48,216.50 L768.96,215.36 " fill="none" stroke="#000" stroke-width="1.5" stroke-linecap="butt"/>
<path d="M768.93,275.25 L776.03,275.25 L772.48,281.60 Z" fill="none" stroke="#000" stroke-width="1.5" stroke-linejoin="miter"/>
<circle cx="772.48" cy="287.80" r="2.65" fill="none" stroke="#000" stroke-width="1.5"/>
<rect x="818.80" y="156.55" width="6.50" height="6.50" fill="none" stroke="#000" stroke-width="1.5"/>
<line x1="816.80" y1="175.00" x2="827.30" y2="175.00" stroke="#000" stroke-width="1.35"/>
<line x1="822.05" y1="169.75" x2="822.05" y2="180.25" stroke="#000" stroke-width="1.35"/>
<path d="M822.05,187.50 L822.05,183.80 M822.05,187.50 L825.57,186.36 M822.05,187.50 L824.22,190.49 M822.05,187.50 L819.88,190.49 M822.05,187.50 L818.53,186.36 " fill="none" stroke="#000" stroke-width="1.5" stroke-linecap="butt"/>
<path d="M818.50,219.05 L825.60,219.05 L822.05,225.40 Z" fill="none" stroke="#000" stroke-width="1.5" stroke-linejoin="miter"/>
<circle cx="822.05" cy="231.90" r="2.65" fill="none" stroke="#000" stroke-width="1.5"/>
<path d="M817.95,297.99 L826.15,297.99 L822.05,290.61 Z" fill="#000" stroke="none" stroke-width="0"/>
<rect x="868.37" y="104.35" width="6.50" height="6.50" fill="none" stroke="#000" stroke-width="1.5"/>
<line x1="866.37" y1="123.00" x2="876.87" y2="123.00" stroke="#000" stroke-width="1.35"/>
<line x1="871.62" y1="117.75" x2="871.62" y2="128.25" stroke="#000" stroke-width="1.35"/>
<path d="M871.62,135.00 L871.62,131.30 M871.62,135.00 L875.14,133.86 M871.62,135.00 L873.79,137.99 M871.62,135.00 L869.45,137.99 M871.62,135.00 L868.10,133.86 " fill="none" stroke="#000" stroke-width="1.5" stroke-linecap="butt"/>
<path d="M868.07,182.25 L875.17,182.25 L871.62,188.60 Z" fill="none" stroke="#000" stroke-width="1.5" stroke-linejoin="miter"/>
<circle cx="871.62" cy="195.30" r="2.65" fill="none" stroke="#000" stroke-width="1.5"/>
<path d="M867.52,288.99 L875.72,288.99 L871.62,281.61 Z" fill="#000" stroke="none" stroke-width="0"/>
<rect x="917.94" y="88.55" width="6.50" height="6.50" fill="none" stroke="#000" stroke-width="1.5"/>
<line x1="915.94" y1="106.70" x2="926.44" y2="106.70" stroke="#000" stroke-width="1.35"/>
<line x1="921.19" y1="101.45" x2="921.19" y2="111.95" stroke="#000" stroke-width="1.35"/>
<path d="M921.19,119.00 L921.19,115.30 M921.19,119.00 L924.71,117.86 M921.19,119.00 L923.36,121.99 M921.19,119.00 L919.02,121.99 M921.19,119.00 L917.67,117.86 " fill="none" stroke="#000" stroke-width="1.5" stroke-linecap="butt"/>
<path d="M917.64,179.35 L924.74,179.35 L921.19,185.70 Z" fill="none" stroke="#000" stroke-width="1.5" stroke-linejoin="miter"/>
<circle cx="921.19" cy="192.50" r="2.65" fill="none" stroke="#000" stroke-width="1.5"/>
<path d="M917.09,288.99 L925.29,288.99 L921.19,281.61 Z" fill="#000" stroke="none" stroke-width="0"/>
<circle cx="569.50" cy="112.70" r="3.9" fill="#000"/>
<text x="578.50" y="119.00" font-size="14.6" text-anchor="start">WT</text>
<path d="M565.70,131.48 L573.30,131.48 L569.50,138.32 Z" fill="#000" stroke="none" stroke-width="0"/>
<text x="578.50" y="140.60" font-size="14.6" text-anchor="start" font-style="italic">lpr/+</text>
<rect x="566.00" y="152.20" width="7.20" height="7.20" fill="#1a1ae6"/>
<text x="578.50" y="160.60" font-size="14.6" text-anchor="start" font-style="italic">lpr/lpr</text>
<path d="M565.70,181.82 L573.30,181.82 L569.50,174.98 Z" fill="#ee8428" stroke="none" stroke-width="0"/>
<text x="577.6" y="184.8" font-size="15.1">FasC194V<tspan font-size="12" font-style="italic" dy="-8.2">lpr/lpr</tspan></text>
<line x1="635.70" y1="106.30" x2="635.70" y2="139.00" stroke="#000" stroke-width="2.7"/>
<line x1="656.40" y1="106.30" x2="656.40" y2="160.90" stroke="#000" stroke-width="2.7"/>
<line x1="677.30" y1="128.50" x2="677.30" y2="160.90" stroke="#000" stroke-width="2.7"/>
<line x1="697.80" y1="151.10" x2="697.80" y2="183.20" stroke="#000" stroke-width="2.7"/>
<line x1="718.50" y1="111.80" x2="718.50" y2="183.20" stroke="#000" stroke-width="2.7"/>
<line x1="739.30" y1="133.40" x2="739.30" y2="183.20" stroke="#000" stroke-width="2.7"/>
<rect x="640.95" y="122.35" width="5.30" height="5.30" fill="none" stroke="#000" stroke-width="1.5"/>
<path d="M663.40,133.60 L663.40,130.30 M663.40,133.60 L666.54,132.58 M663.40,133.60 L665.34,136.27 M663.40,133.60 L661.46,136.27 M663.40,133.60 L660.26,132.58 " fill="none" stroke="#000" stroke-width="1.4" stroke-linecap="butt"/>
<circle cx="683.80" cy="144.90" r="2.25" fill="none" stroke="#000" stroke-width="1.5"/>
<path d="M701.50,169.97 L708.10,169.97 L704.80,164.03 Z" fill="#000" stroke="none" stroke-width="0"/>
<line x1="722.40" y1="148.90" x2="733.20" y2="148.90" stroke="#000" stroke-width="1.35"/>
<line x1="727.80" y1="143.50" x2="727.80" y2="154.30" stroke="#000" stroke-width="1.35"/>
<path d="M743.65,155.52 L749.95,155.52 L746.80,161.13 Z" fill="none" stroke="#000" stroke-width="1.5" stroke-linejoin="miter"/>
<line x1="124.80" y1="536.00" x2="124.80" y2="741.00" stroke="#000" stroke-width="2.1"/>
<line x1="123.80" y1="739.90" x2="425.80" y2="739.90" stroke="#000" stroke-width="2.1"/>
<line x1="117.60" y1="739.94" x2="124.80" y2="739.94" stroke="#000" stroke-width="2.0"/>
<text x="112.30" y="746.94" font-size="20.2" text-anchor="end">−20</text>
<line x1="117.60" y1="699.30" x2="124.80" y2="699.30" stroke="#000" stroke-width="2.0"/>
<text x="112.30" y="706.30" font-size="20.2" text-anchor="end">0</text>
<line x1="117.60" y1="658.66" x2="124.80" y2="658.66" stroke="#000" stroke-width="2.0"/>
<text x="112.30" y="665.66" font-size="20.2" text-anchor="end">20</text>
<line x1="117.60" y1="618.02" x2="124.80" y2="618.02" stroke="#000" stroke-width="2.0"/>
<text x="112.30" y="625.02" font-size="20.2" text-anchor="end">40</text>
<line x1="117.60" y1="577.38" x2="124.80" y2="577.38" stroke="#000" stroke-width="2.0"/>
<text x="112.30" y="584.38" font-size="20.2" text-anchor="end">60</text>
<line x1="117.60" y1="536.74" x2="124.80" y2="536.74" stroke="#000" stroke-width="2.0"/>
<text x="112.30" y="543.74" font-size="20.2" text-anchor="end">80</text>
<line x1="145.90" y1="739.90" x2="145.90" y2="748.00" stroke="#000" stroke-width="2.0"/>
<text x="145.90" y="772.30" font-size="20.2" text-anchor="middle">0</text>
<line x1="189.03" y1="739.90" x2="189.03" y2="748.00" stroke="#000" stroke-width="2.0"/>
<text x="189.03" y="772.30" font-size="20.2" text-anchor="middle">1</text>
<line x1="232.16" y1="739.90" x2="232.16" y2="748.00" stroke="#000" stroke-width="2.0"/>
<text x="232.16" y="772.30" font-size="20.2" text-anchor="middle">2.5</text>
<line x1="275.29" y1="739.90" x2="275.29" y2="748.00" stroke="#000" stroke-width="2.0"/>
<text x="275.29" y="772.30" font-size="20.2" text-anchor="middle">10</text>
<line x1="318.42" y1="739.90" x2="318.42" y2="748.00" stroke="#000" stroke-width="2.0"/>
<text x="318.42" y="772.30" font-size="20.2" text-anchor="middle">25</text>
<line x1="361.55" y1="739.90" x2="361.55" y2="748.00" stroke="#000" stroke-width="2.0"/>
<text x="361.55" y="772.30" font-size="20.2" text-anchor="middle">50</text>
<line x1="404.68" y1="739.90" x2="404.68" y2="748.00" stroke="#000" stroke-width="2.0"/>
<text x="404.68" y="772.30" font-size="20.2" text-anchor="middle">100</text>
<text x="70.0" y="804.4" font-size="20.7">FasL-LZ (ng ml<tspan font-size="14" dy="-5.6">−1</tspan><tspan dy="5.6">)</tspan></text>
<line x1="241.00" y1="799.80" x2="298.10" y2="799.80" stroke="#000" stroke-width="2.8"/>
<path d="M297.10,794.30 L308.30,799.80 L297.10,805.30 Z" fill="#000" stroke="none" stroke-width="0"/>
<text x="66.40" y="637.20" font-size="20.6" text-anchor="middle" transform="rotate(-90 66.40 637.20)">% specific cell death</text>
<path d="M145.90,699.30 L189.03,699.71 L232.16,700.52 L275.29,698.49 L318.42,698.89 L361.55,701.13 L404.68,701.13" fill="none" stroke="#1a1ad8" stroke-width="2.2" stroke-linejoin="round"/>
<line x1="145.90" y1="698.69" x2="145.90" y2="699.91" stroke="#101060" stroke-width="2.0"/>
<line x1="140.90" y1="698.69" x2="150.90" y2="698.69" stroke="#101060" stroke-width="2.0"/>
<line x1="140.90" y1="699.91" x2="150.90" y2="699.91" stroke="#101060" stroke-width="2.0"/>
<rect x="141.70" y="695.10" width="8.40" height="8.40" fill="#1a1ae6"/>
<line x1="189.03" y1="698.69" x2="189.03" y2="700.72" stroke="#101060" stroke-width="2.0"/>
<line x1="184.03" y1="698.69" x2="194.03" y2="698.69" stroke="#101060" stroke-width="2.0"/>
<line x1="184.03" y1="700.72" x2="194.03" y2="700.72" stroke="#101060" stroke-width="2.0"/>
<rect x="184.83" y="695.51" width="8.40" height="8.40" fill="#1a1ae6"/>
<line x1="232.16" y1="699.30" x2="232.16" y2="701.74" stroke="#101060" stroke-width="2.0"/>
<line x1="227.16" y1="699.30" x2="237.16" y2="699.30" stroke="#101060" stroke-width="2.0"/>
<line x1="227.16" y1="701.74" x2="237.16" y2="701.74" stroke="#101060" stroke-width="2.0"/>
<rect x="227.96" y="696.32" width="8.40" height="8.40" fill="#1a1ae6"/>
<line x1="275.29" y1="697.47" x2="275.29" y2="699.50" stroke="#101060" stroke-width="2.0"/>
<line x1="270.29" y1="697.47" x2="280.29" y2="697.47" stroke="#101060" stroke-width="2.0"/>
<line x1="270.29" y1="699.50" x2="280.29" y2="699.50" stroke="#101060" stroke-width="2.0"/>
<rect x="271.09" y="694.29" width="8.40" height="8.40" fill="#1a1ae6"/>
<line x1="318.42" y1="697.88" x2="318.42" y2="699.91" stroke="#101060" stroke-width="2.0"/>
<line x1="313.42" y1="697.88" x2="323.42" y2="697.88" stroke="#101060" stroke-width="2.0"/>
<line x1="313.42" y1="699.91" x2="323.42" y2="699.91" stroke="#101060" stroke-width="2.0"/>
<rect x="314.22" y="694.69" width="8.40" height="8.40" fill="#1a1ae6"/>
<line x1="361.55" y1="700.11" x2="361.55" y2="702.14" stroke="#101060" stroke-width="2.0"/>
<line x1="356.55" y1="700.11" x2="366.55" y2="700.11" stroke="#101060" stroke-width="2.0"/>
<line x1="356.55" y1="702.14" x2="366.55" y2="702.14" stroke="#101060" stroke-width="2.0"/>
<rect x="357.35" y="696.93" width="8.40" height="8.40" fill="#1a1ae6"/>
<line x1="404.68" y1="700.11" x2="404.68" y2="702.14" stroke="#101060" stroke-width="2.0"/>
<line x1="399.68" y1="700.11" x2="409.68" y2="700.11" stroke="#101060" stroke-width="2.0"/>
<line x1="399.68" y1="702.14" x2="409.68" y2="702.14" stroke="#101060" stroke-width="2.0"/>
<rect x="400.48" y="696.93" width="8.40" height="8.40" fill="#1a1ae6"/>
<path d="M145.90,699.30 L189.03,699.30 L232.16,698.28 L275.29,693.00 L318.42,688.33 L361.55,676.54 L404.68,664.55" fill="none" stroke="#ee8428" stroke-width="2.2" stroke-linejoin="round"/>
<line x1="145.90" y1="698.69" x2="145.90" y2="699.91" stroke="#3a2208" stroke-width="1.6"/>
<line x1="140.90" y1="698.69" x2="150.90" y2="698.69" stroke="#3a2208" stroke-width="1.6"/>
<line x1="140.90" y1="699.91" x2="150.90" y2="699.91" stroke="#3a2208" stroke-width="1.6"/>
<path d="M141.40,702.85 L150.40,702.85 L145.90,694.75 Z" fill="#ee8428" stroke="none" stroke-width="0"/>
<line x1="189.03" y1="698.08" x2="189.03" y2="700.52" stroke="#3a2208" stroke-width="1.6"/>
<line x1="184.03" y1="698.08" x2="194.03" y2="698.08" stroke="#3a2208" stroke-width="1.6"/>
<line x1="184.03" y1="700.52" x2="194.03" y2="700.52" stroke="#3a2208" stroke-width="1.6"/>
<path d="M184.53,702.85 L193.53,702.85 L189.03,694.75 Z" fill="#ee8428" stroke="none" stroke-width="0"/>
<line x1="232.16" y1="697.06" x2="232.16" y2="699.50" stroke="#3a2208" stroke-width="1.6"/>
<line x1="227.16" y1="697.06" x2="237.16" y2="697.06" stroke="#3a2208" stroke-width="1.6"/>
<line x1="227.16" y1="699.50" x2="237.16" y2="699.50" stroke="#3a2208" stroke-width="1.6"/>
<path d="M227.66,701.83 L236.66,701.83 L232.16,693.73 Z" fill="#ee8428" stroke="none" stroke-width="0"/>
<line x1="275.29" y1="690.36" x2="275.29" y2="695.64" stroke="#3a2208" stroke-width="1.6"/>
<line x1="270.29" y1="690.36" x2="280.29" y2="690.36" stroke="#3a2208" stroke-width="1.6"/>
<line x1="270.29" y1="695.64" x2="280.29" y2="695.64" stroke="#3a2208" stroke-width="1.6"/>
<path d="M270.79,696.55 L279.79,696.55 L275.29,688.45 Z" fill="#ee8428" stroke="none" stroke-width="0"/>
<line x1="318.42" y1="684.26" x2="318.42" y2="692.39" stroke="#3a2208" stroke-width="1.6"/>
<line x1="313.42" y1="684.26" x2="323.42" y2="684.26" stroke="#3a2208" stroke-width="1.6"/>
<line x1="313.42" y1="692.39" x2="323.42" y2="692.39" stroke="#3a2208" stroke-width="1.6"/>
<path d="M313.92,691.88 L322.92,691.88 L318.42,683.78 Z" fill="#ee8428" stroke="none" stroke-width="0"/>
<line x1="361.55" y1="670.45" x2="361.55" y2="682.64" stroke="#3a2208" stroke-width="1.6"/>
<line x1="356.55" y1="670.45" x2="366.55" y2="670.45" stroke="#3a2208" stroke-width="1.6"/>
<line x1="356.55" y1="682.64" x2="366.55" y2="682.64" stroke="#3a2208" stroke-width="1.6"/>
<path d="M357.05,680.09 L366.05,680.09 L361.55,671.99 Z" fill="#ee8428" stroke="none" stroke-width="0"/>
<line x1="404.68" y1="654.19" x2="404.68" y2="674.92" stroke="#3a2208" stroke-width="1.6"/>
<line x1="399.68" y1="654.19" x2="409.68" y2="654.19" stroke="#3a2208" stroke-width="1.6"/>
<line x1="399.68" y1="674.92" x2="409.68" y2="674.92" stroke="#3a2208" stroke-width="1.6"/>
<path d="M400.18,668.10 L409.18,668.10 L404.68,660.00 Z" fill="#ee8428" stroke="none" stroke-width="0"/>
<path d="M145.90,699.30 L189.03,696.25 L232.16,697.67 L275.29,686.50 L318.42,670.65 L361.55,631.23 L404.68,599.73" fill="none" stroke="#000" stroke-width="2.2" stroke-linejoin="round"/>
<line x1="145.90" y1="698.69" x2="145.90" y2="699.91" stroke="#000" stroke-width="1.6"/>
<line x1="140.90" y1="698.69" x2="150.90" y2="698.69" stroke="#000" stroke-width="1.6"/>
<line x1="140.90" y1="699.91" x2="150.90" y2="699.91" stroke="#000" stroke-width="1.6"/>
<circle cx="145.90" cy="699.30" r="4.4" fill="#000"/>
<line x1="189.03" y1="694.63" x2="189.03" y2="697.88" stroke="#000" stroke-width="1.6"/>
<line x1="184.03" y1="694.63" x2="194.03" y2="694.63" stroke="#000" stroke-width="1.6"/>
<line x1="184.03" y1="697.88" x2="194.03" y2="697.88" stroke="#000" stroke-width="1.6"/>
<circle cx="189.03" cy="696.25" r="4.4" fill="#000"/>
<line x1="232.16" y1="696.05" x2="232.16" y2="699.30" stroke="#000" stroke-width="1.6"/>
<line x1="227.16" y1="696.05" x2="237.16" y2="696.05" stroke="#000" stroke-width="1.6"/>
<line x1="227.16" y1="699.30" x2="237.16" y2="699.30" stroke="#000" stroke-width="1.6"/>
<circle cx="232.16" cy="697.67" r="4.4" fill="#000"/>
<line x1="275.29" y1="682.84" x2="275.29" y2="690.16" stroke="#000" stroke-width="1.6"/>
<line x1="270.29" y1="682.84" x2="280.29" y2="682.84" stroke="#000" stroke-width="1.6"/>
<line x1="270.29" y1="690.16" x2="280.29" y2="690.16" stroke="#000" stroke-width="1.6"/>
<circle cx="275.29" cy="686.50" r="4.4" fill="#000"/>
<line x1="318.42" y1="659.07" x2="318.42" y2="682.23" stroke="#000" stroke-width="1.6"/>
<line x1="313.42" y1="659.07" x2="323.42" y2="659.07" stroke="#000" stroke-width="1.6"/>
<line x1="313.42" y1="682.23" x2="323.42" y2="682.23" stroke="#000" stroke-width="1.6"/>
<circle cx="318.42" cy="670.65" r="4.4" fill="#000"/>
<line x1="361.55" y1="606.23" x2="361.55" y2="656.22" stroke="#000" stroke-width="1.6"/>
<line x1="356.55" y1="606.23" x2="366.55" y2="606.23" stroke="#000" stroke-width="1.6"/>
<line x1="356.55" y1="656.22" x2="366.55" y2="656.22" stroke="#000" stroke-width="1.6"/>
<circle cx="361.55" cy="631.23" r="4.4" fill="#000"/>
<line x1="404.68" y1="569.86" x2="404.68" y2="629.60" stroke="#000" stroke-width="1.6"/>
<line x1="399.68" y1="569.86" x2="409.68" y2="569.86" stroke="#000" stroke-width="1.6"/>
<line x1="399.68" y1="629.60" x2="409.68" y2="629.60" stroke="#000" stroke-width="1.6"/>
<circle cx="404.68" cy="599.73" r="4.4" fill="#000"/>
<line x1="356.30" y1="580.80" x2="366.80" y2="580.80" stroke="#000" stroke-width="1.35"/>
<line x1="361.55" y1="575.55" x2="361.55" y2="586.05" stroke="#000" stroke-width="1.35"/>
<line x1="399.43" y1="543.80" x2="409.93" y2="543.80" stroke="#000" stroke-width="1.35"/>
<line x1="404.68" y1="538.55" x2="404.68" y2="549.05" stroke="#000" stroke-width="1.35"/>
<path d="M361.55,596.20 L361.55,592.50 M361.55,596.20 L365.07,595.06 M361.55,596.20 L363.72,599.19 M361.55,596.20 L359.38,599.19 M361.55,596.20 L358.03,595.06 " fill="none" stroke="#000" stroke-width="1.5" stroke-linecap="butt"/>
<path d="M404.68,558.70 L404.68,555.00 M404.68,558.70 L408.20,557.56 M404.68,558.70 L406.85,561.69 M404.68,558.70 L402.51,561.69 M404.68,558.70 L401.16,557.56 " fill="none" stroke="#000" stroke-width="1.5" stroke-linecap="butt"/>
<path d="M357.80,665.38 L365.30,665.38 L361.55,658.62 Z" fill="#000" stroke="none" stroke-width="0"/>
<path d="M400.93,646.88 L408.43,646.88 L404.68,640.12 Z" fill="#000" stroke="none" stroke-width="0"/>
<circle cx="158.90" cy="534.10" r="4.0" fill="#000"/>
<text x="170.60" y="540.00" font-size="17.3" text-anchor="start">WT</text>
<rect x="154.80" y="552.00" width="8.20" height="8.20" fill="#1a1ae6"/>
<text x="170.60" y="561.40" font-size="17.3" text-anchor="start" font-style="italic">lpr/lpr</text>
<path d="M154.60,582.07 L163.20,582.07 L158.90,574.33 Z" fill="#ee8428" stroke="none" stroke-width="0"/>
<text x="170.2" y="585.1" font-size="17.9">FasC194V<tspan font-size="12" font-style="italic" dy="-8.1">lpr/lpr</tspan></text>
<line x1="272.80" y1="527.50" x2="272.80" y2="559.80" stroke="#000" stroke-width="2.6"/>
<line x1="303.50" y1="546.30" x2="303.50" y2="578.80" stroke="#000" stroke-width="2.6"/>
<line x1="333.70" y1="527.50" x2="333.70" y2="578.80" stroke="#000" stroke-width="2.6"/>
<path d="M280.00,542.00 L280.00,539.00 M280.00,542.00 L282.85,541.07 M280.00,542.00 L281.76,544.43 M280.00,542.00 L278.24,544.43 M280.00,542.00 L277.15,541.07 " fill="none" stroke="#000" stroke-width="1.5" stroke-linecap="butt"/>
<path d="M308.00,564.91 L313.80,564.91 L310.90,559.69 Z" fill="#000" stroke="none" stroke-width="0"/>
<line x1="339.20" y1="554.70" x2="350.20" y2="554.70" stroke="#000" stroke-width="1.35"/>
<line x1="344.70" y1="549.20" x2="344.70" y2="560.20" stroke="#000" stroke-width="1.35"/>
<line x1="599.90" y1="538.00" x2="599.90" y2="737.00" stroke="#000" stroke-width="2.1"/>
<line x1="598.90" y1="736.10" x2="895.50" y2="736.10" stroke="#000" stroke-width="2.1"/>
<line x1="600.00" y1="687.10" x2="895.50" y2="687.10" stroke="#000" stroke-width="1.6" stroke-dasharray="3.2,2.6"/>
<line x1="592.50" y1="736.40" x2="599.90" y2="736.40" stroke="#000" stroke-width="2.0"/>
<text x="584.90" y="743.40" font-size="20.2" text-anchor="end">−20</text>
<line x1="592.50" y1="687.10" x2="599.90" y2="687.10" stroke="#000" stroke-width="2.0"/>
<text x="584.90" y="694.10" font-size="20.2" text-anchor="end">0</text>
<line x1="592.50" y1="637.80" x2="599.90" y2="637.80" stroke="#000" stroke-width="2.0"/>
<text x="584.90" y="644.80" font-size="20.2" text-anchor="end">20</text>
<line x1="592.50" y1="588.50" x2="599.90" y2="588.50" stroke="#000" stroke-width="2.0"/>
<text x="584.90" y="595.50" font-size="20.2" text-anchor="end">40</text>
<line x1="592.50" y1="539.20" x2="599.90" y2="539.20" stroke="#000" stroke-width="2.0"/>
<text x="584.90" y="546.20" font-size="20.2" text-anchor="end">60</text>
<line x1="624.50" y1="736.10" x2="624.50" y2="744.50" stroke="#000" stroke-width="2.0"/>
<text x="624.50" y="768.50" font-size="20.2" text-anchor="middle">0</text>
<line x1="673.90" y1="736.10" x2="673.90" y2="744.50" stroke="#000" stroke-width="2.0"/>
<text x="673.90" y="768.50" font-size="20.2" text-anchor="middle">0.01</text>
<line x1="723.30" y1="736.10" x2="723.30" y2="744.50" stroke="#000" stroke-width="2.0"/>
<text x="723.30" y="768.50" font-size="20.2" text-anchor="middle">0.1</text>
<line x1="772.70" y1="736.10" x2="772.70" y2="744.50" stroke="#000" stroke-width="2.0"/>
<text x="772.70" y="768.50" font-size="20.2" text-anchor="middle">1.0</text>
<line x1="822.10" y1="736.10" x2="822.10" y2="744.50" stroke="#000" stroke-width="2.0"/>
<text x="822.10" y="768.50" font-size="20.2" text-anchor="middle">2.5</text>
<line x1="871.50" y1="736.10" x2="871.50" y2="744.50" stroke="#000" stroke-width="2.0"/>
<text x="871.50" y="768.50" font-size="20.2" text-anchor="middle">5.0</text>
<text x="574.2" y="801.7" font-size="20.6">CD3 (μg ml<tspan font-size="14" dy="-5.6">−1</tspan><tspan dy="5.6">)</tspan></text>
<line x1="709.80" y1="796.90" x2="767.30" y2="796.90" stroke="#000" stroke-width="2.8"/>
<path d="M766.30,791.40 L777.80,796.90 L766.30,802.40 Z" fill="#000" stroke="none" stroke-width="0"/>
<text x="538.90" y="634.60" font-size="20.9" text-anchor="middle" transform="rotate(-90 538.90 634.60)">% specific cell death</text>
<path d="M624.50,687.10 L673.90,687.10 L723.30,680.94 L772.70,678.23 L822.10,670.58 L871.50,661.71" fill="none" stroke="#1a1ad8" stroke-width="2.2" stroke-linejoin="round"/>
<path d="M624.50,687.10 L673.90,671.32 L723.30,667.13 L772.70,666.89 L822.10,650.37 L871.50,640.26" fill="none" stroke="#ee8428" stroke-width="2.2" stroke-linejoin="round"/>
<path d="M624.50,687.10 L673.90,651.60 L723.30,613.15 L772.70,608.47 L822.10,592.69 L871.50,566.56" fill="none" stroke="#000" stroke-width="2.2" stroke-linejoin="round"/>
<rect x="620.10" y="682.70" width="8.80" height="8.80" fill="#1a1ae6"/>
<line x1="624.50" y1="686.36" x2="624.50" y2="687.84" stroke="#111" stroke-width="1.9"/>
<line x1="619.50" y1="686.36" x2="629.50" y2="686.36" stroke="#111" stroke-width="1.9"/>
<line x1="619.50" y1="687.84" x2="629.50" y2="687.84" stroke="#111" stroke-width="1.9"/>
<rect x="669.50" y="682.70" width="8.80" height="8.80" fill="#1a1ae6"/>
<line x1="673.90" y1="683.16" x2="673.90" y2="691.04" stroke="#111" stroke-width="1.9"/>
<line x1="668.90" y1="683.16" x2="678.90" y2="683.16" stroke="#111" stroke-width="1.9"/>
<line x1="668.90" y1="691.04" x2="678.90" y2="691.04" stroke="#111" stroke-width="1.9"/>
<rect x="718.90" y="676.54" width="8.80" height="8.80" fill="#1a1ae6"/>
<line x1="723.30" y1="672.06" x2="723.30" y2="689.81" stroke="#111" stroke-width="1.9"/>
<line x1="718.30" y1="672.06" x2="728.30" y2="672.06" stroke="#111" stroke-width="1.9"/>
<line x1="718.30" y1="689.81" x2="728.30" y2="689.81" stroke="#111" stroke-width="1.9"/>
<rect x="768.30" y="673.83" width="8.80" height="8.80" fill="#1a1ae6"/>
<line x1="772.70" y1="669.85" x2="772.70" y2="686.61" stroke="#111" stroke-width="1.9"/>
<line x1="767.70" y1="669.85" x2="777.70" y2="669.85" stroke="#111" stroke-width="1.9"/>
<line x1="767.70" y1="686.61" x2="777.70" y2="686.61" stroke="#111" stroke-width="1.9"/>
<rect x="817.70" y="666.18" width="8.80" height="8.80" fill="#1a1ae6"/>
<line x1="822.10" y1="661.22" x2="822.10" y2="679.95" stroke="#111" stroke-width="1.9"/>
<line x1="817.10" y1="661.22" x2="827.10" y2="661.22" stroke="#111" stroke-width="1.9"/>
<line x1="817.10" y1="679.95" x2="827.10" y2="679.95" stroke="#111" stroke-width="1.9"/>
<rect x="867.10" y="657.31" width="8.80" height="8.80" fill="#1a1ae6"/>
<line x1="871.50" y1="652.10" x2="871.50" y2="671.32" stroke="#111" stroke-width="1.9"/>
<line x1="866.50" y1="652.10" x2="876.50" y2="652.10" stroke="#111" stroke-width="1.9"/>
<line x1="866.50" y1="671.32" x2="876.50" y2="671.32" stroke="#111" stroke-width="1.9"/>
<path d="M621.00,689.75 L628.00,689.75 L624.50,683.45 Z" fill="#ee8428" stroke="none" stroke-width="0"/>
<line x1="624.50" y1="686.36" x2="624.50" y2="687.84" stroke="#111" stroke-width="1.9"/>
<line x1="619.50" y1="686.36" x2="629.50" y2="686.36" stroke="#111" stroke-width="1.9"/>
<line x1="619.50" y1="687.84" x2="629.50" y2="687.84" stroke="#111" stroke-width="1.9"/>
<path d="M670.40,673.97 L677.40,673.97 L673.90,667.67 Z" fill="#ee8428" stroke="none" stroke-width="0"/>
<line x1="673.90" y1="663.93" x2="673.90" y2="678.72" stroke="#111" stroke-width="1.9"/>
<line x1="668.90" y1="663.93" x2="678.90" y2="663.93" stroke="#111" stroke-width="1.9"/>
<line x1="668.90" y1="678.72" x2="678.90" y2="678.72" stroke="#111" stroke-width="1.9"/>
<path d="M719.80,669.78 L726.80,669.78 L723.30,663.48 Z" fill="#ee8428" stroke="none" stroke-width="0"/>
<line x1="723.30" y1="659.49" x2="723.30" y2="674.77" stroke="#111" stroke-width="1.9"/>
<line x1="718.30" y1="659.49" x2="728.30" y2="659.49" stroke="#111" stroke-width="1.9"/>
<line x1="718.30" y1="674.77" x2="728.30" y2="674.77" stroke="#111" stroke-width="1.9"/>
<path d="M769.20,669.54 L776.20,669.54 L772.70,663.24 Z" fill="#ee8428" stroke="none" stroke-width="0"/>
<line x1="772.70" y1="661.46" x2="772.70" y2="672.31" stroke="#111" stroke-width="1.9"/>
<line x1="767.70" y1="661.46" x2="777.70" y2="661.46" stroke="#111" stroke-width="1.9"/>
<line x1="767.70" y1="672.31" x2="777.70" y2="672.31" stroke="#111" stroke-width="1.9"/>
<path d="M818.60,653.02 L825.60,653.02 L822.10,646.72 Z" fill="#ee8428" stroke="none" stroke-width="0"/>
<line x1="822.10" y1="644.46" x2="822.10" y2="656.29" stroke="#111" stroke-width="1.9"/>
<line x1="817.10" y1="644.46" x2="827.10" y2="644.46" stroke="#111" stroke-width="1.9"/>
<line x1="817.10" y1="656.29" x2="827.10" y2="656.29" stroke="#111" stroke-width="1.9"/>
<path d="M868.00,642.91 L875.00,642.91 L871.50,636.62 Z" fill="#ee8428" stroke="none" stroke-width="0"/>
<line x1="871.50" y1="634.35" x2="871.50" y2="646.18" stroke="#111" stroke-width="1.9"/>
<line x1="866.50" y1="634.35" x2="876.50" y2="634.35" stroke="#111" stroke-width="1.9"/>
<line x1="866.50" y1="646.18" x2="876.50" y2="646.18" stroke="#111" stroke-width="1.9"/>
<line x1="624.50" y1="686.36" x2="624.50" y2="687.84" stroke="#000" stroke-width="1.9"/>
<line x1="619.50" y1="686.36" x2="629.50" y2="686.36" stroke="#000" stroke-width="1.9"/>
<line x1="619.50" y1="687.84" x2="629.50" y2="687.84" stroke="#000" stroke-width="1.9"/>
<circle cx="624.50" cy="687.10" r="4.0" fill="#000"/>
<line x1="673.90" y1="638.05" x2="673.90" y2="665.16" stroke="#000" stroke-width="1.9"/>
<line x1="668.90" y1="638.05" x2="678.90" y2="638.05" stroke="#000" stroke-width="1.9"/>
<line x1="668.90" y1="665.16" x2="678.90" y2="665.16" stroke="#000" stroke-width="1.9"/>
<circle cx="673.90" cy="651.60" r="4.0" fill="#000"/>
<line x1="723.30" y1="602.55" x2="723.30" y2="623.75" stroke="#000" stroke-width="1.9"/>
<line x1="718.30" y1="602.55" x2="728.30" y2="602.55" stroke="#000" stroke-width="1.9"/>
<line x1="718.30" y1="623.75" x2="728.30" y2="623.75" stroke="#000" stroke-width="1.9"/>
<circle cx="723.30" cy="613.15" r="4.0" fill="#000"/>
<line x1="772.70" y1="596.63" x2="772.70" y2="620.30" stroke="#000" stroke-width="1.9"/>
<line x1="767.70" y1="596.63" x2="777.70" y2="596.63" stroke="#000" stroke-width="1.9"/>
<line x1="767.70" y1="620.30" x2="777.70" y2="620.30" stroke="#000" stroke-width="1.9"/>
<circle cx="772.70" cy="608.47" r="4.0" fill="#000"/>
<line x1="822.10" y1="581.84" x2="822.10" y2="603.54" stroke="#000" stroke-width="1.9"/>
<line x1="817.10" y1="581.84" x2="827.10" y2="581.84" stroke="#000" stroke-width="1.9"/>
<line x1="817.10" y1="603.54" x2="827.10" y2="603.54" stroke="#000" stroke-width="1.9"/>
<circle cx="822.10" cy="592.69" r="4.0" fill="#000"/>
<line x1="871.50" y1="560.15" x2="871.50" y2="572.97" stroke="#000" stroke-width="1.9"/>
<line x1="866.50" y1="560.15" x2="876.50" y2="560.15" stroke="#000" stroke-width="1.9"/>
<line x1="866.50" y1="572.97" x2="876.50" y2="572.97" stroke="#000" stroke-width="1.9"/>
<circle cx="871.50" cy="566.56" r="4.0" fill="#000"/>
<line x1="717.80" y1="577.50" x2="728.80" y2="577.50" stroke="#000" stroke-width="1.35"/>
<line x1="723.30" y1="572.00" x2="723.30" y2="583.00" stroke="#000" stroke-width="1.35"/>
<line x1="767.20" y1="573.70" x2="778.20" y2="573.70" stroke="#000" stroke-width="1.35"/>
<line x1="772.70" y1="568.20" x2="772.70" y2="579.20" stroke="#000" stroke-width="1.35"/>
<line x1="816.60" y1="556.70" x2="827.60" y2="556.70" stroke="#000" stroke-width="1.35"/>
<line x1="822.10" y1="551.20" x2="822.10" y2="562.20" stroke="#000" stroke-width="1.35"/>
<line x1="866.00" y1="535.20" x2="877.00" y2="535.20" stroke="#000" stroke-width="1.35"/>
<line x1="871.50" y1="529.70" x2="871.50" y2="540.70" stroke="#000" stroke-width="1.35"/>
<path d="M723.30,591.50 L723.30,587.80 M723.30,591.50 L726.82,590.36 M723.30,591.50 L725.47,594.49 M723.30,591.50 L721.13,594.49 M723.30,591.50 L719.78,590.36 " fill="none" stroke="#000" stroke-width="1.5" stroke-linecap="butt"/>
<path d="M772.70,587.70 L772.70,584.00 M772.70,587.70 L776.22,586.56 M772.70,587.70 L774.87,590.69 M772.70,587.70 L770.53,590.69 M772.70,587.70 L769.18,586.56 " fill="none" stroke="#000" stroke-width="1.5" stroke-linecap="butt"/>
<path d="M822.10,570.70 L822.10,567.00 M822.10,570.70 L825.62,569.56 M822.10,570.70 L824.27,573.69 M822.10,570.70 L819.93,573.69 M822.10,570.70 L818.58,569.56 " fill="none" stroke="#000" stroke-width="1.5" stroke-linecap="butt"/>
<path d="M871.50,549.10 L871.50,545.40 M871.50,549.10 L875.02,547.96 M871.50,549.10 L873.67,552.09 M871.50,549.10 L869.33,552.09 M871.50,549.10 L867.98,547.96 " fill="none" stroke="#000" stroke-width="1.5" stroke-linecap="butt"/>
<line x1="89.30" y1="859.00" x2="89.30" y2="1113.50" stroke="#000" stroke-width="2.2"/>
<line x1="80.30" y1="1112.50" x2="465.50" y2="1112.50" stroke="#000" stroke-width="2.2"/>
<line x1="80.30" y1="1112.40" x2="89.30" y2="1112.40" stroke="#000" stroke-width="2.1"/>
<text x="70.60" y="1119.50" font-size="20.2" text-anchor="end">0</text>
<line x1="80.30" y1="1061.95" x2="89.30" y2="1061.95" stroke="#000" stroke-width="2.1"/>
<text x="70.60" y="1069.05" font-size="20.2" text-anchor="end">5</text>
<line x1="80.30" y1="1011.50" x2="89.30" y2="1011.50" stroke="#000" stroke-width="2.1"/>
<text x="70.60" y="1018.60" font-size="20.2" text-anchor="end">10</text>
<line x1="80.30" y1="961.05" x2="89.30" y2="961.05" stroke="#000" stroke-width="2.1"/>
<text x="70.60" y="968.15" font-size="20.2" text-anchor="end">15</text>
<line x1="80.30" y1="910.60" x2="89.30" y2="910.60" stroke="#000" stroke-width="2.1"/>
<text x="70.60" y="917.70" font-size="20.2" text-anchor="end">20</text>
<line x1="80.30" y1="860.15" x2="89.30" y2="860.15" stroke="#000" stroke-width="2.1"/>
<text x="70.60" y="867.25" font-size="20.2" text-anchor="end">25</text>
<line x1="120.50" y1="1112.50" x2="120.50" y2="1121.70" stroke="#000" stroke-width="2.1"/>
<line x1="183.45" y1="1112.50" x2="183.45" y2="1121.70" stroke="#000" stroke-width="2.1"/>
<line x1="246.40" y1="1112.50" x2="246.40" y2="1121.70" stroke="#000" stroke-width="2.1"/>
<line x1="309.35" y1="1112.50" x2="309.35" y2="1121.70" stroke="#000" stroke-width="2.1"/>
<line x1="372.30" y1="1112.50" x2="372.30" y2="1121.70" stroke="#000" stroke-width="2.1"/>
<line x1="435.25" y1="1112.50" x2="435.25" y2="1121.70" stroke="#000" stroke-width="2.1"/>
<text x="120.50" y="1147.70" font-size="20.2" text-anchor="middle">−</text>
<text x="183.45" y="1147.70" font-size="20.2" text-anchor="middle">+</text>
<text x="246.40" y="1147.70" font-size="20.2" text-anchor="middle">−</text>
<text x="309.35" y="1147.70" font-size="20.2" text-anchor="middle">+</text>
<text x="372.30" y="1147.70" font-size="20.2" text-anchor="middle">−</text>
<text x="435.25" y="1147.70" font-size="20.2" text-anchor="middle">+</text>
<text x="0" y="0" font-size="20.9" text-anchor="middle" transform="translate(32.5 991.4) rotate(-90)">% Vβ8 of CD4<tspan font-size="14" dy="-4.7">+</tspan><tspan dy="4.7"> T cells</tspan></text>
<text x="35.60" y="1147.70" font-size="20.2" text-anchor="start">SEB:</text>
<text x="151.90" y="1177.50" font-size="20.2" text-anchor="middle">WT</text>
<text x="273.60" y="1177.50" font-size="20.2" text-anchor="middle" font-style="italic">lpr/lpr</text>
<text x="338.3" y="1177.7" font-size="21">FasC194V<tspan font-size="14.9" font-style="italic" dy="-3.8">lpr/lpr</tspan></text>
<circle cx="105.10" cy="917.30" r="4.45" fill="none" stroke="#000" stroke-width="1.7"/>
<circle cx="113.70" cy="916.60" r="4.45" fill="none" stroke="#000" stroke-width="1.7"/>
<circle cx="128.10" cy="915.90" r="4.45" fill="none" stroke="#000" stroke-width="1.7"/>
<circle cx="136.00" cy="917.30" r="4.45" fill="none" stroke="#000" stroke-width="1.7"/>
<circle cx="108.70" cy="922.30" r="4.45" fill="none" stroke="#000" stroke-width="1.7"/>
<circle cx="113.00" cy="925.20" r="4.45" fill="none" stroke="#000" stroke-width="1.7"/>
<circle cx="118.70" cy="930.90" r="4.45" fill="none" stroke="#000" stroke-width="1.7"/>
<circle cx="124.50" cy="926.60" r="4.45" fill="none" stroke="#000" stroke-width="1.7"/>
<circle cx="130.20" cy="920.90" r="4.45" fill="none" stroke="#000" stroke-width="1.7"/>
<circle cx="111.60" cy="920.90" r="4.45" fill="none" stroke="#000" stroke-width="1.7"/>
<line x1="100.00" y1="922.80" x2="141.70" y2="922.80" stroke="#000" stroke-width="2.2"/>
<circle cx="169.00" cy="990.60" r="5.0" fill="#000"/>
<circle cx="176.20" cy="984.80" r="5.0" fill="#000"/>
<circle cx="191.30" cy="980.20" r="5.0" fill="#000"/>
<circle cx="197.80" cy="987.70" r="5.0" fill="#000"/>
<circle cx="193.40" cy="992.00" r="5.0" fill="#000"/>
<circle cx="187.70" cy="994.90" r="5.0" fill="#000"/>
<circle cx="177.60" cy="995.60" r="5.0" fill="#000"/>
<circle cx="183.40" cy="1003.50" r="5.0" fill="#000"/>
<circle cx="182.00" cy="999.20" r="5.0" fill="#000"/>
<circle cx="183.40" cy="1045.90" r="5.0" fill="#000"/>
<line x1="162.60" y1="997.00" x2="204.90" y2="997.00" stroke="#000" stroke-width="2.2"/>
<line x1="225.70" y1="940.00" x2="267.20" y2="940.00" stroke="#ababab" stroke-width="2.2"/>
<path d="M242.52,918.03 L250.28,918.03 L246.40,910.10 Z" fill="none" stroke="#ababab" stroke-width="1.8" stroke-linejoin="miter"/>
<path d="M242.52,934.12 L250.28,934.12 L246.40,926.19 Z" fill="none" stroke="#ababab" stroke-width="1.8" stroke-linejoin="miter"/>
<path d="M228.82,945.53 L236.58,945.53 L232.70,937.60 Z" fill="none" stroke="#ababab" stroke-width="1.8" stroke-linejoin="miter"/>
<path d="M256.42,947.23 L264.18,947.23 L260.30,939.29 Z" fill="none" stroke="#ababab" stroke-width="1.8" stroke-linejoin="miter"/>
<path d="M235.42,954.43 L243.18,954.43 L239.30,946.50 Z" fill="none" stroke="#ababab" stroke-width="1.8" stroke-linejoin="miter"/>
<path d="M249.32,956.33 L257.08,956.33 L253.20,948.39 Z" fill="none" stroke="#ababab" stroke-width="1.8" stroke-linejoin="miter"/>
<path d="M242.52,959.53 L250.28,959.53 L246.40,951.60 Z" fill="none" stroke="#ababab" stroke-width="1.8" stroke-linejoin="miter"/>
<path d="M290.20,942.98 L300.80,942.98 L295.50,933.22 Z" fill="#ababab" stroke="none" stroke-width="0"/>
<path d="M318.10,938.88 L328.70,938.88 L323.40,929.12 Z" fill="#ababab" stroke="none" stroke-width="0"/>
<path d="M294.90,947.38 L305.50,947.38 L300.20,937.62 Z" fill="#ababab" stroke="none" stroke-width="0"/>
<path d="M298.40,952.48 L309.00,952.48 L303.70,942.72 Z" fill="#ababab" stroke="none" stroke-width="0"/>
<path d="M303.50,954.38 L314.10,954.38 L308.80,944.62 Z" fill="#ababab" stroke="none" stroke-width="0"/>
<path d="M309.20,947.98 L319.80,947.98 L314.50,938.22 Z" fill="#ababab" stroke="none" stroke-width="0"/>
<path d="M313.60,945.48 L324.20,945.48 L318.90,935.72 Z" fill="#ababab" stroke="none" stroke-width="0"/>
<path d="M311.70,963.28 L322.30,963.28 L317.00,953.52 Z" fill="#ababab" stroke="none" stroke-width="0"/>
<path d="M296.50,978.48 L307.10,978.48 L301.80,968.72 Z" fill="#ababab" stroke="none" stroke-width="0"/>
<line x1="288.50" y1="946.90" x2="329.70" y2="946.90" stroke="#ababab" stroke-width="2.2"/>
<line x1="352.00" y1="922.30" x2="392.60" y2="922.30" stroke="#000" stroke-width="2.2"/>
<rect x="352.50" y="918.70" width="9.00" height="9.00" fill="none" stroke="#000" stroke-width="1.8"/>
<rect x="359.50" y="921.60" width="9.00" height="9.00" fill="none" stroke="#000" stroke-width="1.8"/>
<rect x="365.90" y="923.20" width="9.00" height="9.00" fill="none" stroke="#000" stroke-width="1.8"/>
<rect x="370.90" y="922.80" width="9.00" height="9.00" fill="none" stroke="#000" stroke-width="1.8"/>
<rect x="376.00" y="922.20" width="9.00" height="9.00" fill="none" stroke="#000" stroke-width="1.8"/>
<rect x="382.40" y="921.60" width="9.00" height="9.00" fill="none" stroke="#000" stroke-width="1.8"/>
<rect x="367.50" y="900.60" width="9.00" height="9.00" fill="none" stroke="#000" stroke-width="1.8"/>
<rect x="430.10" y="917.30" width="10.00" height="10.00" fill="#000"/>
<rect x="422.70" y="923.20" width="10.00" height="10.00" fill="#000"/>
<rect x="445.00" y="933.40" width="10.00" height="10.00" fill="#000"/>
<rect x="437.70" y="947.70" width="10.00" height="10.00" fill="#000"/>
<rect x="440.90" y="954.70" width="10.00" height="10.00" fill="#000"/>
<rect x="419.90" y="955.30" width="10.00" height="10.00" fill="#000"/>
<rect x="427.50" y="960.40" width="10.00" height="10.00" fill="#000"/>
<rect x="433.90" y="959.10" width="10.00" height="10.00" fill="#000"/>
<line x1="414.10" y1="950.20" x2="456.00" y2="950.20" stroke="#000" stroke-width="2.2"/>
<line x1="119.30" y1="886.30" x2="182.70" y2="886.30" stroke="#000" stroke-width="2.4"/>
<path d="M138.60,873.40 L138.60,869.90 M138.60,873.40 L141.93,872.32 M138.60,873.40 L140.66,876.23 M138.60,873.40 L136.54,876.23 M138.60,873.40 L135.27,872.32 " fill="none" stroke="#000" stroke-width="1.5" stroke-linecap="butt"/>
<path d="M146.60,873.40 L146.60,869.90 M146.60,873.40 L149.93,872.32 M146.60,873.40 L148.66,876.23 M146.60,873.40 L144.54,876.23 M146.60,873.40 L143.27,872.32 " fill="none" stroke="#000" stroke-width="1.5" stroke-linecap="butt"/>
<path d="M154.60,873.40 L154.60,869.90 M154.60,873.40 L157.93,872.32 M154.60,873.40 L156.66,876.23 M154.60,873.40 L152.54,876.23 M154.60,873.40 L151.27,872.32 " fill="none" stroke="#000" stroke-width="1.5" stroke-linecap="butt"/>
<path d="M162.60,873.40 L162.60,869.90 M162.60,873.40 L165.93,872.32 M162.60,873.40 L164.66,876.23 M162.60,873.40 L160.54,876.23 M162.60,873.40 L159.27,872.32 " fill="none" stroke="#000" stroke-width="1.5" stroke-linecap="butt"/>
<line x1="243.90" y1="886.30" x2="308.20" y2="886.30" stroke="#000" stroke-width="2.4"/>
<text x="276.30" y="879.20" font-size="20.2" text-anchor="middle">NS</text>
<line x1="375.20" y1="888.30" x2="439.00" y2="888.30" stroke="#000" stroke-width="2.4"/>
<path d="M406.30,874.40 L406.30,870.90 M406.30,874.40 L409.63,873.32 M406.30,874.40 L408.36,877.23 M406.30,874.40 L404.24,877.23 M406.30,874.40 L402.97,873.32 " fill="none" stroke="#000" stroke-width="1.5" stroke-linecap="butt"/>
<line x1="313.10" y1="1011.80" x2="439.00" y2="1011.80" stroke="#000" stroke-width="2.4"/>
<text x="376.00" y="1000.50" font-size="20.2" text-anchor="middle">NS</text>
<line x1="180.20" y1="1057.20" x2="309.70" y2="1057.20" stroke="#000" stroke-width="2.4"/>
<path d="M232.70,1043.20 L232.70,1039.70 M232.70,1043.20 L236.03,1042.12 M232.70,1043.20 L234.76,1046.03 M232.70,1043.20 L230.64,1046.03 M232.70,1043.20 L229.37,1042.12 " fill="none" stroke="#000" stroke-width="1.5" stroke-linecap="butt"/>
<path d="M240.70,1043.20 L240.70,1039.70 M240.70,1043.20 L244.03,1042.12 M240.70,1043.20 L242.76,1046.03 M240.70,1043.20 L238.64,1046.03 M240.70,1043.20 L237.37,1042.12 " fill="none" stroke="#000" stroke-width="1.5" stroke-linecap="butt"/>
<path d="M248.70,1043.20 L248.70,1039.70 M248.70,1043.20 L252.03,1042.12 M248.70,1043.20 L250.76,1046.03 M248.70,1043.20 L246.64,1046.03 M248.70,1043.20 L245.37,1042.12 " fill="none" stroke="#000" stroke-width="1.5" stroke-linecap="butt"/>
<path d="M256.70,1043.20 L256.70,1039.70 M256.70,1043.20 L260.03,1042.12 M256.70,1043.20 L258.76,1046.03 M256.70,1043.20 L254.64,1046.03 M256.70,1043.20 L253.37,1042.12 " fill="none" stroke="#000" stroke-width="1.5" stroke-linecap="butt"/>
<line x1="180.20" y1="1080.50" x2="439.00" y2="1080.50" stroke="#000" stroke-width="2.4"/>
<path d="M297.70,1068.60 L297.70,1065.10 M297.70,1068.60 L301.03,1067.52 M297.70,1068.60 L299.76,1071.43 M297.70,1068.60 L295.64,1071.43 M297.70,1068.60 L294.37,1067.52 " fill="none" stroke="#000" stroke-width="1.5" stroke-linecap="butt"/>
<path d="M305.70,1068.60 L305.70,1065.10 M305.70,1068.60 L309.03,1067.52 M305.70,1068.60 L307.76,1071.43 M305.70,1068.60 L303.64,1071.43 M305.70,1068.60 L302.37,1067.52 " fill="none" stroke="#000" stroke-width="1.5" stroke-linecap="butt"/>
<path d="M313.70,1068.60 L313.70,1065.10 M313.70,1068.60 L317.03,1067.52 M313.70,1068.60 L315.76,1071.43 M313.70,1068.60 L311.64,1071.43 M313.70,1068.60 L310.37,1067.52 " fill="none" stroke="#000" stroke-width="1.5" stroke-linecap="butt"/>
<path d="M321.70,1068.60 L321.70,1065.10 M321.70,1068.60 L325.03,1067.52 M321.70,1068.60 L323.76,1071.43 M321.70,1068.60 L319.64,1071.43 M321.70,1068.60 L318.37,1067.52 " fill="none" stroke="#000" stroke-width="1.5" stroke-linecap="butt"/>
<line x1="558.00" y1="860.60" x2="558.00" y2="1113.00" stroke="#000" stroke-width="2.2"/>
<line x1="549.00" y1="1112.00" x2="931.00" y2="1112.00" stroke="#000" stroke-width="2.2"/>
<line x1="549.00" y1="1112.00" x2="558.00" y2="1112.00" stroke="#000" stroke-width="2.1"/>
<text x="541.80" y="1119.10" font-size="20.2" text-anchor="end">0</text>
<line x1="549.00" y1="1028.55" x2="558.00" y2="1028.55" stroke="#000" stroke-width="2.1"/>
<text x="541.80" y="1035.65" font-size="20.2" text-anchor="end">5</text>
<line x1="549.00" y1="945.10" x2="558.00" y2="945.10" stroke="#000" stroke-width="2.1"/>
<text x="541.80" y="952.20" font-size="20.2" text-anchor="end">10</text>
<line x1="549.00" y1="861.65" x2="558.00" y2="861.65" stroke="#000" stroke-width="2.1"/>
<text x="541.80" y="868.75" font-size="20.2" text-anchor="end">15</text>
<line x1="589.20" y1="1112.00" x2="589.20" y2="1121.20" stroke="#000" stroke-width="2.1"/>
<line x1="651.50" y1="1112.00" x2="651.50" y2="1121.20" stroke="#000" stroke-width="2.1"/>
<line x1="713.80" y1="1112.00" x2="713.80" y2="1121.20" stroke="#000" stroke-width="2.1"/>
<line x1="776.10" y1="1112.00" x2="776.10" y2="1121.20" stroke="#000" stroke-width="2.1"/>
<line x1="838.40" y1="1112.00" x2="838.40" y2="1121.20" stroke="#000" stroke-width="2.1"/>
<line x1="900.70" y1="1112.00" x2="900.70" y2="1121.20" stroke="#000" stroke-width="2.1"/>
<text x="589.20" y="1147.70" font-size="20.2" text-anchor="middle">−</text>
<text x="651.50" y="1147.70" font-size="20.2" text-anchor="middle">+</text>
<text x="713.80" y="1147.70" font-size="20.2" text-anchor="middle">−</text>
<text x="776.10" y="1147.70" font-size="20.2" text-anchor="middle">+</text>
<text x="838.40" y="1147.70" font-size="20.2" text-anchor="middle">−</text>
<text x="900.70" y="1147.70" font-size="20.2" text-anchor="middle">+</text>
<text x="0" y="0" font-size="20.9" text-anchor="middle" transform="translate(503.9 987.6) rotate(-90)">% Vβ6 of CD4<tspan font-size="14" dy="-4.7">+</tspan><tspan dy="4.7"> T cells</tspan></text>
<text x="519.00" y="1148.00" font-size="20.2" text-anchor="start">SEB:</text>
<text x="617.30" y="1177.70" font-size="20.2" text-anchor="middle">WT</text>
<text x="742.50" y="1177.50" font-size="20.2" text-anchor="middle" font-style="italic">lpr/lpr</text>
<text x="803.7" y="1177.7" font-size="21">FasC194V<tspan font-size="14.9" font-style="italic" dy="-3.8">lpr/lpr</tspan></text>
<circle cx="573.30" cy="988.10" r="4.45" fill="none" stroke="#000" stroke-width="1.7"/>
<circle cx="577.80" cy="988.80" r="4.45" fill="none" stroke="#000" stroke-width="1.7"/>
<circle cx="582.20" cy="983.60" r="4.45" fill="none" stroke="#000" stroke-width="1.7"/>
<circle cx="587.40" cy="992.50" r="4.45" fill="none" stroke="#000" stroke-width="1.7"/>
<circle cx="591.80" cy="990.30" r="4.45" fill="none" stroke="#000" stroke-width="1.7"/>
<circle cx="596.30" cy="982.90" r="4.45" fill="none" stroke="#000" stroke-width="1.7"/>
<circle cx="600.00" cy="987.30" r="4.45" fill="none" stroke="#000" stroke-width="1.7"/>
<circle cx="604.40" cy="988.10" r="4.45" fill="none" stroke="#000" stroke-width="1.7"/>
<circle cx="584.40" cy="989.60" r="4.45" fill="none" stroke="#000" stroke-width="1.7"/>
<circle cx="594.00" cy="991.00" r="4.45" fill="none" stroke="#000" stroke-width="1.7"/>
<circle cx="637.70" cy="955.50" r="5.0" fill="#000"/>
<circle cx="644.40" cy="962.20" r="5.0" fill="#000"/>
<circle cx="651.00" cy="966.60" r="5.0" fill="#000"/>
<circle cx="657.70" cy="957.00" r="5.0" fill="#000"/>
<circle cx="664.30" cy="952.30" r="5.0" fill="#000"/>
<circle cx="648.80" cy="964.40" r="5.0" fill="#000"/>
<circle cx="637.70" cy="988.40" r="5.0" fill="#000"/>
<circle cx="644.40" cy="993.30" r="5.0" fill="#000"/>
<circle cx="651.00" cy="1000.70" r="5.0" fill="#000"/>
<circle cx="657.70" cy="994.70" r="5.0" fill="#000"/>
<circle cx="664.30" cy="988.80" r="5.0" fill="#000"/>
<line x1="630.30" y1="975.90" x2="671.70" y2="975.90" stroke="#000" stroke-width="2.2"/>
<line x1="692.70" y1="963.10" x2="734.70" y2="963.10" stroke="#ababab" stroke-width="2.2"/>
<path d="M709.92,933.62 L717.68,933.62 L713.80,925.69 Z" fill="none" stroke="#ababab" stroke-width="1.8" stroke-linejoin="miter"/>
<path d="M694.22,959.33 L701.98,959.33 L698.10,951.39 Z" fill="none" stroke="#ababab" stroke-width="1.8" stroke-linejoin="miter"/>
<path d="M725.32,964.73 L733.08,964.73 L729.20,956.79 Z" fill="none" stroke="#ababab" stroke-width="1.8" stroke-linejoin="miter"/>
<path d="M703.72,971.53 L711.48,971.53 L707.60,963.60 Z" fill="none" stroke="#ababab" stroke-width="1.8" stroke-linejoin="miter"/>
<path d="M714.52,973.73 L722.28,973.73 L718.40,965.79 Z" fill="none" stroke="#ababab" stroke-width="1.8" stroke-linejoin="miter"/>
<path d="M717.22,981.83 L724.98,981.83 L721.10,973.89 Z" fill="none" stroke="#ababab" stroke-width="1.8" stroke-linejoin="miter"/>
<path d="M702.32,992.62 L710.08,992.62 L706.20,984.69 Z" fill="none" stroke="#ababab" stroke-width="1.8" stroke-linejoin="miter"/>
<path d="M757.20,959.88 L767.80,959.88 L762.50,950.12 Z" fill="#ababab" stroke="none" stroke-width="0"/>
<path d="M770.80,967.48 L781.40,967.48 L776.10,957.72 Z" fill="#ababab" stroke="none" stroke-width="0"/>
<path d="M784.30,963.98 L794.90,963.98 L789.60,954.22 Z" fill="#ababab" stroke="none" stroke-width="0"/>
<path d="M755.10,969.38 L765.70,969.38 L760.40,959.62 Z" fill="#ababab" stroke="none" stroke-width="0"/>
<path d="M765.30,978.08 L775.90,978.08 L770.60,968.32 Z" fill="#ababab" stroke="none" stroke-width="0"/>
<path d="M787.00,978.08 L797.60,978.08 L792.30,968.32 Z" fill="#ababab" stroke="none" stroke-width="0"/>
<path d="M776.20,983.48 L786.80,983.48 L781.50,973.72 Z" fill="#ababab" stroke="none" stroke-width="0"/>
<path d="M778.10,993.18 L788.70,993.18 L783.40,983.42 Z" fill="#ababab" stroke="none" stroke-width="0"/>
<path d="M763.20,1007.28 L773.80,1007.28 L768.50,997.52 Z" fill="#ababab" stroke="none" stroke-width="0"/>
<line x1="755.00" y1="972.60" x2="796.90" y2="972.60" stroke="#ababab" stroke-width="2.2"/>
<line x1="817.20" y1="985.30" x2="859.10" y2="985.30" stroke="#000" stroke-width="2.2"/>
<rect x="820.30" y="976.80" width="9.00" height="9.00" fill="none" stroke="#000" stroke-width="1.8"/>
<rect x="847.10" y="978.10" width="9.00" height="9.00" fill="none" stroke="#000" stroke-width="1.8"/>
<rect x="826.20" y="984.30" width="9.00" height="9.00" fill="none" stroke="#000" stroke-width="1.8"/>
<rect x="833.80" y="987.10" width="9.00" height="9.00" fill="none" stroke="#000" stroke-width="1.8"/>
<rect x="841.10" y="985.70" width="9.00" height="9.00" fill="none" stroke="#000" stroke-width="1.8"/>
<rect x="833.80" y="968.70" width="9.00" height="9.00" fill="none" stroke="#000" stroke-width="1.8"/>
<rect x="882.00" y="958.10" width="10.00" height="10.00" fill="#000"/>
<rect x="892.00" y="960.80" width="10.00" height="10.00" fill="#000"/>
<rect x="901.50" y="958.10" width="10.00" height="10.00" fill="#000"/>
<rect x="909.10" y="954.60" width="10.00" height="10.00" fill="#000"/>
<rect x="879.90" y="967.60" width="10.00" height="10.00" fill="#000"/>
<rect x="890.10" y="975.70" width="10.00" height="10.00" fill="#000"/>
<rect x="901.30" y="970.30" width="10.00" height="10.00" fill="#000"/>
<rect x="911.80" y="966.30" width="10.00" height="10.00" fill="#000"/>
<rect x="896.00" y="963.00" width="10.00" height="10.00" fill="#000"/>
<line x1="879.00" y1="969.00" x2="921.00" y2="969.00" stroke="#000" stroke-width="2.2"/>
</svg></body></html>
